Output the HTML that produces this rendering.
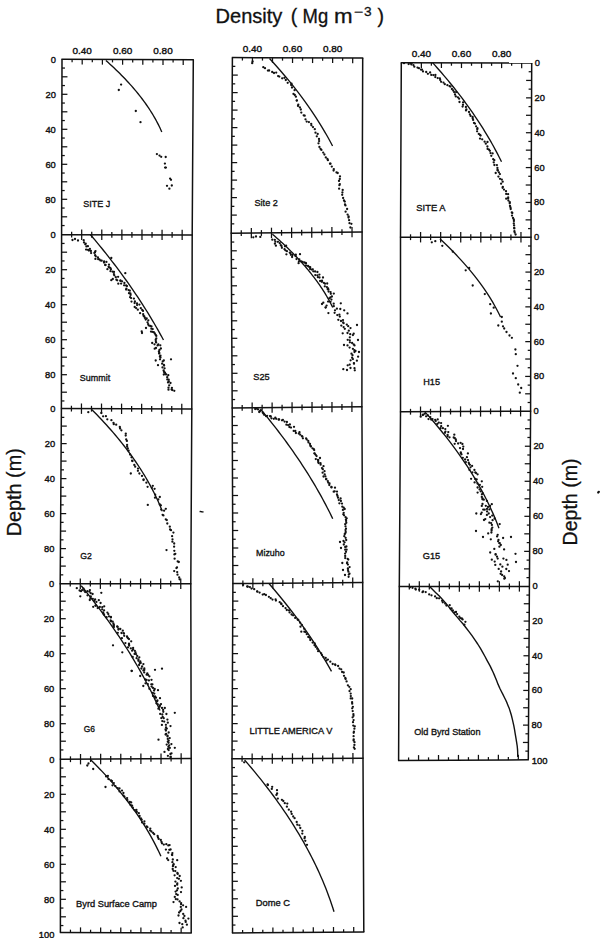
<!DOCTYPE html>
<html><head><meta charset="utf-8"><style>
html,body{margin:0;padding:0;background:#fff;width:600px;height:938px;overflow:hidden}
svg{display:block;font-family:"Liberation Sans",sans-serif}
.t{font-size:9.6px;stroke:#111;stroke-width:0.4px}
.lbl{font-size:9.8px;stroke:#111;stroke-width:0.35px}
</style></head><body>
<svg width="600" height="938" viewBox="0 0 600 938">
<g stroke="#111" fill="none" stroke-linecap="butt">
<polyline points="62.00,59.30 61.60,234.70 61.40,408.60 60.20,583.70 60.40,759.30 60.40,932.50" stroke-width="1.5"/>
<polyline points="193.30,59.80 192.20,234.90 191.80,409.10 190.80,583.70 191.20,758.50 191.20,933.00" stroke-width="1.5"/>
<line x1="61.40" y1="59.30" x2="193.90" y2="59.80" stroke-width="1.5"/>
<line x1="61.00" y1="234.70" x2="192.80" y2="234.90" stroke-width="1.5"/>
<line x1="60.80" y1="408.60" x2="192.40" y2="409.10" stroke-width="1.5"/>
<line x1="59.60" y1="583.70" x2="191.40" y2="583.70" stroke-width="1.5"/>
<line x1="59.80" y1="759.30" x2="191.80" y2="758.50" stroke-width="1.5"/>
<line x1="59.80" y1="932.50" x2="191.80" y2="933.00" stroke-width="1.5"/>
<line x1="72.10" y1="59.34" x2="72.10" y2="62.24" stroke-width="1.25"/>
<line x1="71.65" y1="234.72" x2="71.65" y2="231.82" stroke-width="1.25"/>
<line x1="82.20" y1="59.38" x2="82.20" y2="64.58" stroke-width="1.25"/>
<line x1="81.69" y1="234.73" x2="81.69" y2="229.53" stroke-width="1.25"/>
<line x1="92.30" y1="59.42" x2="92.30" y2="62.32" stroke-width="1.25"/>
<line x1="91.74" y1="234.75" x2="91.74" y2="231.85" stroke-width="1.25"/>
<line x1="102.40" y1="59.45" x2="102.40" y2="64.65" stroke-width="1.25"/>
<line x1="101.78" y1="234.76" x2="101.78" y2="229.56" stroke-width="1.25"/>
<line x1="112.50" y1="59.49" x2="112.50" y2="62.39" stroke-width="1.25"/>
<line x1="111.83" y1="234.78" x2="111.83" y2="231.88" stroke-width="1.25"/>
<line x1="122.60" y1="59.53" x2="122.60" y2="64.73" stroke-width="1.25"/>
<line x1="121.88" y1="234.79" x2="121.88" y2="229.59" stroke-width="1.25"/>
<line x1="132.70" y1="59.57" x2="132.70" y2="62.47" stroke-width="1.25"/>
<line x1="131.92" y1="234.81" x2="131.92" y2="231.91" stroke-width="1.25"/>
<line x1="142.80" y1="59.61" x2="142.80" y2="64.81" stroke-width="1.25"/>
<line x1="141.97" y1="234.82" x2="141.97" y2="229.62" stroke-width="1.25"/>
<line x1="152.90" y1="59.65" x2="152.90" y2="62.55" stroke-width="1.25"/>
<line x1="152.02" y1="234.84" x2="152.02" y2="231.94" stroke-width="1.25"/>
<line x1="163.00" y1="59.68" x2="163.00" y2="64.88" stroke-width="1.25"/>
<line x1="162.06" y1="234.85" x2="162.06" y2="229.65" stroke-width="1.25"/>
<line x1="173.10" y1="59.72" x2="173.10" y2="62.62" stroke-width="1.25"/>
<line x1="172.11" y1="234.87" x2="172.11" y2="231.97" stroke-width="1.25"/>
<line x1="183.20" y1="59.76" x2="183.20" y2="64.96" stroke-width="1.25"/>
<line x1="182.15" y1="234.88" x2="182.15" y2="229.68" stroke-width="1.25"/>
<line x1="61.98" y1="68.05" x2="64.98" y2="68.05" stroke-width="1.25"/>
<line x1="61.96" y1="76.80" x2="67.46" y2="76.80" stroke-width="1.25"/>
<line x1="61.94" y1="85.55" x2="64.94" y2="85.55" stroke-width="1.25"/>
<line x1="61.92" y1="94.30" x2="67.42" y2="94.30" stroke-width="1.25"/>
<line x1="61.90" y1="103.05" x2="64.90" y2="103.05" stroke-width="1.25"/>
<line x1="61.88" y1="111.80" x2="67.38" y2="111.80" stroke-width="1.25"/>
<line x1="61.86" y1="120.55" x2="64.86" y2="120.55" stroke-width="1.25"/>
<line x1="61.84" y1="129.30" x2="67.34" y2="129.30" stroke-width="1.25"/>
<line x1="61.82" y1="138.05" x2="64.82" y2="138.05" stroke-width="1.25"/>
<line x1="61.80" y1="146.80" x2="67.30" y2="146.80" stroke-width="1.25"/>
<line x1="61.78" y1="155.55" x2="64.78" y2="155.55" stroke-width="1.25"/>
<line x1="61.76" y1="164.30" x2="67.26" y2="164.30" stroke-width="1.25"/>
<line x1="61.74" y1="173.05" x2="64.74" y2="173.05" stroke-width="1.25"/>
<line x1="61.72" y1="181.80" x2="67.22" y2="181.80" stroke-width="1.25"/>
<line x1="61.70" y1="190.55" x2="64.70" y2="190.55" stroke-width="1.25"/>
<line x1="61.68" y1="199.30" x2="67.18" y2="199.30" stroke-width="1.25"/>
<line x1="61.66" y1="208.05" x2="64.66" y2="208.05" stroke-width="1.25"/>
<line x1="61.64" y1="216.80" x2="67.14" y2="216.80" stroke-width="1.25"/>
<line x1="61.62" y1="225.55" x2="64.62" y2="225.55" stroke-width="1.25"/>
<line x1="71.65" y1="234.72" x2="71.65" y2="237.62" stroke-width="1.25"/>
<line x1="71.43" y1="408.64" x2="71.43" y2="405.74" stroke-width="1.25"/>
<line x1="81.69" y1="234.73" x2="81.69" y2="239.93" stroke-width="1.25"/>
<line x1="81.46" y1="408.68" x2="81.46" y2="403.48" stroke-width="1.25"/>
<line x1="91.74" y1="234.75" x2="91.74" y2="237.65" stroke-width="1.25"/>
<line x1="91.49" y1="408.72" x2="91.49" y2="405.82" stroke-width="1.25"/>
<line x1="101.78" y1="234.76" x2="101.78" y2="239.96" stroke-width="1.25"/>
<line x1="101.52" y1="408.75" x2="101.52" y2="403.55" stroke-width="1.25"/>
<line x1="111.83" y1="234.78" x2="111.83" y2="237.68" stroke-width="1.25"/>
<line x1="111.55" y1="408.79" x2="111.55" y2="405.89" stroke-width="1.25"/>
<line x1="121.88" y1="234.79" x2="121.88" y2="239.99" stroke-width="1.25"/>
<line x1="121.58" y1="408.83" x2="121.58" y2="403.63" stroke-width="1.25"/>
<line x1="131.92" y1="234.81" x2="131.92" y2="237.71" stroke-width="1.25"/>
<line x1="131.62" y1="408.87" x2="131.62" y2="405.97" stroke-width="1.25"/>
<line x1="141.97" y1="234.82" x2="141.97" y2="240.02" stroke-width="1.25"/>
<line x1="141.65" y1="408.91" x2="141.65" y2="403.71" stroke-width="1.25"/>
<line x1="152.02" y1="234.84" x2="152.02" y2="237.74" stroke-width="1.25"/>
<line x1="151.68" y1="408.95" x2="151.68" y2="406.05" stroke-width="1.25"/>
<line x1="162.06" y1="234.85" x2="162.06" y2="240.05" stroke-width="1.25"/>
<line x1="161.71" y1="408.98" x2="161.71" y2="403.78" stroke-width="1.25"/>
<line x1="172.11" y1="234.87" x2="172.11" y2="237.77" stroke-width="1.25"/>
<line x1="171.74" y1="409.02" x2="171.74" y2="406.12" stroke-width="1.25"/>
<line x1="182.15" y1="234.88" x2="182.15" y2="240.08" stroke-width="1.25"/>
<line x1="181.77" y1="409.06" x2="181.77" y2="403.86" stroke-width="1.25"/>
<line x1="61.59" y1="243.45" x2="64.59" y2="243.45" stroke-width="1.25"/>
<line x1="61.58" y1="252.20" x2="67.08" y2="252.20" stroke-width="1.25"/>
<line x1="61.57" y1="260.95" x2="64.57" y2="260.95" stroke-width="1.25"/>
<line x1="61.56" y1="269.70" x2="67.06" y2="269.70" stroke-width="1.25"/>
<line x1="61.55" y1="278.45" x2="64.55" y2="278.45" stroke-width="1.25"/>
<line x1="61.54" y1="287.20" x2="67.04" y2="287.20" stroke-width="1.25"/>
<line x1="61.53" y1="295.95" x2="64.53" y2="295.95" stroke-width="1.25"/>
<line x1="61.52" y1="304.70" x2="67.02" y2="304.70" stroke-width="1.25"/>
<line x1="61.51" y1="313.45" x2="64.51" y2="313.45" stroke-width="1.25"/>
<line x1="61.50" y1="322.20" x2="67.00" y2="322.20" stroke-width="1.25"/>
<line x1="61.49" y1="330.95" x2="64.49" y2="330.95" stroke-width="1.25"/>
<line x1="61.48" y1="339.70" x2="66.98" y2="339.70" stroke-width="1.25"/>
<line x1="61.47" y1="348.45" x2="64.47" y2="348.45" stroke-width="1.25"/>
<line x1="61.46" y1="357.20" x2="66.96" y2="357.20" stroke-width="1.25"/>
<line x1="61.45" y1="365.95" x2="64.45" y2="365.95" stroke-width="1.25"/>
<line x1="61.44" y1="374.70" x2="66.94" y2="374.70" stroke-width="1.25"/>
<line x1="61.43" y1="383.45" x2="64.43" y2="383.45" stroke-width="1.25"/>
<line x1="61.42" y1="392.20" x2="66.92" y2="392.20" stroke-width="1.25"/>
<line x1="61.41" y1="400.95" x2="64.41" y2="400.95" stroke-width="1.25"/>
<line x1="71.43" y1="408.64" x2="71.43" y2="411.54" stroke-width="1.25"/>
<line x1="70.25" y1="583.70" x2="70.25" y2="580.80" stroke-width="1.25"/>
<line x1="81.46" y1="408.68" x2="81.46" y2="413.88" stroke-width="1.25"/>
<line x1="80.29" y1="583.70" x2="80.29" y2="578.50" stroke-width="1.25"/>
<line x1="91.49" y1="408.72" x2="91.49" y2="411.62" stroke-width="1.25"/>
<line x1="90.34" y1="583.70" x2="90.34" y2="580.80" stroke-width="1.25"/>
<line x1="101.52" y1="408.75" x2="101.52" y2="413.95" stroke-width="1.25"/>
<line x1="100.38" y1="583.70" x2="100.38" y2="578.50" stroke-width="1.25"/>
<line x1="111.55" y1="408.79" x2="111.55" y2="411.69" stroke-width="1.25"/>
<line x1="110.43" y1="583.70" x2="110.43" y2="580.80" stroke-width="1.25"/>
<line x1="121.58" y1="408.83" x2="121.58" y2="414.03" stroke-width="1.25"/>
<line x1="120.48" y1="583.70" x2="120.48" y2="578.50" stroke-width="1.25"/>
<line x1="131.62" y1="408.87" x2="131.62" y2="411.77" stroke-width="1.25"/>
<line x1="130.52" y1="583.70" x2="130.52" y2="580.80" stroke-width="1.25"/>
<line x1="141.65" y1="408.91" x2="141.65" y2="414.11" stroke-width="1.25"/>
<line x1="140.57" y1="583.70" x2="140.57" y2="578.50" stroke-width="1.25"/>
<line x1="151.68" y1="408.95" x2="151.68" y2="411.85" stroke-width="1.25"/>
<line x1="150.62" y1="583.70" x2="150.62" y2="580.80" stroke-width="1.25"/>
<line x1="161.71" y1="408.98" x2="161.71" y2="414.18" stroke-width="1.25"/>
<line x1="160.66" y1="583.70" x2="160.66" y2="578.50" stroke-width="1.25"/>
<line x1="171.74" y1="409.02" x2="171.74" y2="411.92" stroke-width="1.25"/>
<line x1="170.71" y1="583.70" x2="170.71" y2="580.80" stroke-width="1.25"/>
<line x1="181.77" y1="409.06" x2="181.77" y2="414.26" stroke-width="1.25"/>
<line x1="180.75" y1="583.70" x2="180.75" y2="578.50" stroke-width="1.25"/>
<line x1="61.34" y1="417.35" x2="64.34" y2="417.35" stroke-width="1.25"/>
<line x1="61.28" y1="426.10" x2="66.78" y2="426.10" stroke-width="1.25"/>
<line x1="61.22" y1="434.85" x2="64.22" y2="434.85" stroke-width="1.25"/>
<line x1="61.16" y1="443.60" x2="66.66" y2="443.60" stroke-width="1.25"/>
<line x1="61.10" y1="452.35" x2="64.10" y2="452.35" stroke-width="1.25"/>
<line x1="61.04" y1="461.10" x2="66.54" y2="461.10" stroke-width="1.25"/>
<line x1="60.98" y1="469.85" x2="63.98" y2="469.85" stroke-width="1.25"/>
<line x1="60.92" y1="478.60" x2="66.42" y2="478.60" stroke-width="1.25"/>
<line x1="60.86" y1="487.35" x2="63.86" y2="487.35" stroke-width="1.25"/>
<line x1="60.80" y1="496.10" x2="66.30" y2="496.10" stroke-width="1.25"/>
<line x1="60.74" y1="504.85" x2="63.74" y2="504.85" stroke-width="1.25"/>
<line x1="60.68" y1="513.60" x2="66.18" y2="513.60" stroke-width="1.25"/>
<line x1="60.62" y1="522.35" x2="63.62" y2="522.35" stroke-width="1.25"/>
<line x1="60.56" y1="531.10" x2="66.06" y2="531.10" stroke-width="1.25"/>
<line x1="60.50" y1="539.85" x2="63.50" y2="539.85" stroke-width="1.25"/>
<line x1="60.44" y1="548.60" x2="65.94" y2="548.60" stroke-width="1.25"/>
<line x1="60.38" y1="557.35" x2="63.38" y2="557.35" stroke-width="1.25"/>
<line x1="60.32" y1="566.10" x2="65.82" y2="566.10" stroke-width="1.25"/>
<line x1="60.26" y1="574.85" x2="63.26" y2="574.85" stroke-width="1.25"/>
<line x1="70.25" y1="583.70" x2="70.25" y2="586.60" stroke-width="1.25"/>
<line x1="70.46" y1="759.24" x2="70.46" y2="756.34" stroke-width="1.25"/>
<line x1="80.29" y1="583.70" x2="80.29" y2="588.90" stroke-width="1.25"/>
<line x1="80.52" y1="759.18" x2="80.52" y2="753.98" stroke-width="1.25"/>
<line x1="90.34" y1="583.70" x2="90.34" y2="586.60" stroke-width="1.25"/>
<line x1="90.58" y1="759.12" x2="90.58" y2="756.22" stroke-width="1.25"/>
<line x1="100.38" y1="583.70" x2="100.38" y2="588.90" stroke-width="1.25"/>
<line x1="100.65" y1="759.05" x2="100.65" y2="753.85" stroke-width="1.25"/>
<line x1="110.43" y1="583.70" x2="110.43" y2="586.60" stroke-width="1.25"/>
<line x1="110.71" y1="758.99" x2="110.71" y2="756.09" stroke-width="1.25"/>
<line x1="120.48" y1="583.70" x2="120.48" y2="588.90" stroke-width="1.25"/>
<line x1="120.77" y1="758.93" x2="120.77" y2="753.73" stroke-width="1.25"/>
<line x1="130.52" y1="583.70" x2="130.52" y2="586.60" stroke-width="1.25"/>
<line x1="130.83" y1="758.87" x2="130.83" y2="755.97" stroke-width="1.25"/>
<line x1="140.57" y1="583.70" x2="140.57" y2="588.90" stroke-width="1.25"/>
<line x1="140.89" y1="758.81" x2="140.89" y2="753.61" stroke-width="1.25"/>
<line x1="150.62" y1="583.70" x2="150.62" y2="586.60" stroke-width="1.25"/>
<line x1="150.95" y1="758.75" x2="150.95" y2="755.85" stroke-width="1.25"/>
<line x1="160.66" y1="583.70" x2="160.66" y2="588.90" stroke-width="1.25"/>
<line x1="161.02" y1="758.68" x2="161.02" y2="753.48" stroke-width="1.25"/>
<line x1="170.71" y1="583.70" x2="170.71" y2="586.60" stroke-width="1.25"/>
<line x1="171.08" y1="758.62" x2="171.08" y2="755.72" stroke-width="1.25"/>
<line x1="180.75" y1="583.70" x2="180.75" y2="588.90" stroke-width="1.25"/>
<line x1="181.14" y1="758.56" x2="181.14" y2="753.36" stroke-width="1.25"/>
<line x1="60.21" y1="592.45" x2="63.21" y2="592.45" stroke-width="1.25"/>
<line x1="60.22" y1="601.20" x2="65.72" y2="601.20" stroke-width="1.25"/>
<line x1="60.23" y1="609.95" x2="63.23" y2="609.95" stroke-width="1.25"/>
<line x1="60.24" y1="618.70" x2="65.74" y2="618.70" stroke-width="1.25"/>
<line x1="60.25" y1="627.45" x2="63.25" y2="627.45" stroke-width="1.25"/>
<line x1="60.26" y1="636.20" x2="65.76" y2="636.20" stroke-width="1.25"/>
<line x1="60.27" y1="644.95" x2="63.27" y2="644.95" stroke-width="1.25"/>
<line x1="60.28" y1="653.70" x2="65.78" y2="653.70" stroke-width="1.25"/>
<line x1="60.29" y1="662.45" x2="63.29" y2="662.45" stroke-width="1.25"/>
<line x1="60.30" y1="671.20" x2="65.80" y2="671.20" stroke-width="1.25"/>
<line x1="60.31" y1="679.95" x2="63.31" y2="679.95" stroke-width="1.25"/>
<line x1="60.32" y1="688.70" x2="65.82" y2="688.70" stroke-width="1.25"/>
<line x1="60.33" y1="697.45" x2="63.33" y2="697.45" stroke-width="1.25"/>
<line x1="60.34" y1="706.20" x2="65.84" y2="706.20" stroke-width="1.25"/>
<line x1="60.35" y1="714.95" x2="63.35" y2="714.95" stroke-width="1.25"/>
<line x1="60.36" y1="723.70" x2="65.86" y2="723.70" stroke-width="1.25"/>
<line x1="60.37" y1="732.45" x2="63.37" y2="732.45" stroke-width="1.25"/>
<line x1="60.38" y1="741.20" x2="65.88" y2="741.20" stroke-width="1.25"/>
<line x1="60.39" y1="749.95" x2="63.39" y2="749.95" stroke-width="1.25"/>
<line x1="70.46" y1="759.24" x2="70.46" y2="762.14" stroke-width="1.25"/>
<line x1="70.46" y1="932.54" x2="70.46" y2="929.64" stroke-width="1.25"/>
<line x1="80.52" y1="759.18" x2="80.52" y2="764.38" stroke-width="1.25"/>
<line x1="80.52" y1="932.58" x2="80.52" y2="927.38" stroke-width="1.25"/>
<line x1="90.58" y1="759.12" x2="90.58" y2="762.02" stroke-width="1.25"/>
<line x1="90.58" y1="932.62" x2="90.58" y2="929.72" stroke-width="1.25"/>
<line x1="100.65" y1="759.05" x2="100.65" y2="764.25" stroke-width="1.25"/>
<line x1="100.65" y1="932.65" x2="100.65" y2="927.45" stroke-width="1.25"/>
<line x1="110.71" y1="758.99" x2="110.71" y2="761.89" stroke-width="1.25"/>
<line x1="110.71" y1="932.69" x2="110.71" y2="929.79" stroke-width="1.25"/>
<line x1="120.77" y1="758.93" x2="120.77" y2="764.13" stroke-width="1.25"/>
<line x1="120.77" y1="932.73" x2="120.77" y2="927.53" stroke-width="1.25"/>
<line x1="130.83" y1="758.87" x2="130.83" y2="761.77" stroke-width="1.25"/>
<line x1="130.83" y1="932.77" x2="130.83" y2="929.87" stroke-width="1.25"/>
<line x1="140.89" y1="758.81" x2="140.89" y2="764.01" stroke-width="1.25"/>
<line x1="140.89" y1="932.81" x2="140.89" y2="927.61" stroke-width="1.25"/>
<line x1="150.95" y1="758.75" x2="150.95" y2="761.65" stroke-width="1.25"/>
<line x1="150.95" y1="932.85" x2="150.95" y2="929.95" stroke-width="1.25"/>
<line x1="161.02" y1="758.68" x2="161.02" y2="763.88" stroke-width="1.25"/>
<line x1="161.02" y1="932.88" x2="161.02" y2="927.68" stroke-width="1.25"/>
<line x1="171.08" y1="758.62" x2="171.08" y2="761.52" stroke-width="1.25"/>
<line x1="171.08" y1="932.92" x2="171.08" y2="930.02" stroke-width="1.25"/>
<line x1="181.14" y1="758.56" x2="181.14" y2="763.76" stroke-width="1.25"/>
<line x1="181.14" y1="932.96" x2="181.14" y2="927.76" stroke-width="1.25"/>
<line x1="60.40" y1="768.05" x2="63.40" y2="768.05" stroke-width="1.25"/>
<line x1="60.40" y1="776.80" x2="65.90" y2="776.80" stroke-width="1.25"/>
<line x1="60.40" y1="785.55" x2="63.40" y2="785.55" stroke-width="1.25"/>
<line x1="60.40" y1="794.30" x2="65.90" y2="794.30" stroke-width="1.25"/>
<line x1="60.40" y1="803.05" x2="63.40" y2="803.05" stroke-width="1.25"/>
<line x1="60.40" y1="811.80" x2="65.90" y2="811.80" stroke-width="1.25"/>
<line x1="60.40" y1="820.55" x2="63.40" y2="820.55" stroke-width="1.25"/>
<line x1="60.40" y1="829.30" x2="65.90" y2="829.30" stroke-width="1.25"/>
<line x1="60.40" y1="838.05" x2="63.40" y2="838.05" stroke-width="1.25"/>
<line x1="60.40" y1="846.80" x2="65.90" y2="846.80" stroke-width="1.25"/>
<line x1="60.40" y1="855.55" x2="63.40" y2="855.55" stroke-width="1.25"/>
<line x1="60.40" y1="864.30" x2="65.90" y2="864.30" stroke-width="1.25"/>
<line x1="60.40" y1="873.05" x2="63.40" y2="873.05" stroke-width="1.25"/>
<line x1="60.40" y1="881.80" x2="65.90" y2="881.80" stroke-width="1.25"/>
<line x1="60.40" y1="890.55" x2="63.40" y2="890.55" stroke-width="1.25"/>
<line x1="60.40" y1="899.30" x2="65.90" y2="899.30" stroke-width="1.25"/>
<line x1="60.40" y1="908.05" x2="63.40" y2="908.05" stroke-width="1.25"/>
<line x1="60.40" y1="916.80" x2="65.90" y2="916.80" stroke-width="1.25"/>
<line x1="60.40" y1="925.55" x2="63.40" y2="925.55" stroke-width="1.25"/>
<polyline points="232.40,57.60 231.20,233.30 232.20,408.00 232.90,583.60 232.00,758.80 232.50,933.00" stroke-width="1.5"/>
<polyline points="362.70,58.00 362.10,232.00 361.90,406.80 362.70,582.50 363.00,758.20 363.80,932.00" stroke-width="1.5"/>
<line x1="231.80" y1="57.60" x2="363.30" y2="58.00" stroke-width="1.5"/>
<line x1="230.60" y1="233.30" x2="362.70" y2="232.00" stroke-width="1.5"/>
<line x1="231.60" y1="408.00" x2="362.50" y2="406.80" stroke-width="1.5"/>
<line x1="232.30" y1="583.60" x2="363.30" y2="582.50" stroke-width="1.5"/>
<line x1="231.40" y1="758.80" x2="363.60" y2="758.20" stroke-width="1.5"/>
<line x1="231.90" y1="933.00" x2="364.40" y2="932.00" stroke-width="1.5"/>
<line x1="242.42" y1="57.63" x2="242.42" y2="60.53" stroke-width="1.25"/>
<line x1="241.27" y1="233.20" x2="241.27" y2="230.30" stroke-width="1.25"/>
<line x1="252.45" y1="57.66" x2="252.45" y2="62.86" stroke-width="1.25"/>
<line x1="251.34" y1="233.10" x2="251.34" y2="227.90" stroke-width="1.25"/>
<line x1="262.47" y1="57.69" x2="262.47" y2="60.59" stroke-width="1.25"/>
<line x1="261.41" y1="233.00" x2="261.41" y2="230.10" stroke-width="1.25"/>
<line x1="272.49" y1="57.72" x2="272.49" y2="62.92" stroke-width="1.25"/>
<line x1="271.48" y1="232.90" x2="271.48" y2="227.70" stroke-width="1.25"/>
<line x1="282.52" y1="57.75" x2="282.52" y2="60.65" stroke-width="1.25"/>
<line x1="281.55" y1="232.80" x2="281.55" y2="229.90" stroke-width="1.25"/>
<line x1="292.54" y1="57.78" x2="292.54" y2="62.98" stroke-width="1.25"/>
<line x1="291.62" y1="232.70" x2="291.62" y2="227.50" stroke-width="1.25"/>
<line x1="302.56" y1="57.82" x2="302.56" y2="60.72" stroke-width="1.25"/>
<line x1="301.68" y1="232.60" x2="301.68" y2="229.70" stroke-width="1.25"/>
<line x1="312.58" y1="57.85" x2="312.58" y2="63.05" stroke-width="1.25"/>
<line x1="311.75" y1="232.50" x2="311.75" y2="227.30" stroke-width="1.25"/>
<line x1="322.61" y1="57.88" x2="322.61" y2="60.78" stroke-width="1.25"/>
<line x1="321.82" y1="232.40" x2="321.82" y2="229.50" stroke-width="1.25"/>
<line x1="332.63" y1="57.91" x2="332.63" y2="63.11" stroke-width="1.25"/>
<line x1="331.89" y1="232.30" x2="331.89" y2="227.10" stroke-width="1.25"/>
<line x1="342.65" y1="57.94" x2="342.65" y2="60.84" stroke-width="1.25"/>
<line x1="341.96" y1="232.20" x2="341.96" y2="229.30" stroke-width="1.25"/>
<line x1="352.68" y1="57.97" x2="352.68" y2="63.17" stroke-width="1.25"/>
<line x1="352.03" y1="232.10" x2="352.03" y2="226.90" stroke-width="1.25"/>
<line x1="232.34" y1="66.35" x2="235.34" y2="66.35" stroke-width="1.25"/>
<line x1="232.28" y1="75.10" x2="237.78" y2="75.10" stroke-width="1.25"/>
<line x1="232.22" y1="83.85" x2="235.22" y2="83.85" stroke-width="1.25"/>
<line x1="232.16" y1="92.60" x2="237.66" y2="92.60" stroke-width="1.25"/>
<line x1="232.10" y1="101.35" x2="235.10" y2="101.35" stroke-width="1.25"/>
<line x1="232.04" y1="110.10" x2="237.54" y2="110.10" stroke-width="1.25"/>
<line x1="231.98" y1="118.85" x2="234.98" y2="118.85" stroke-width="1.25"/>
<line x1="231.92" y1="127.60" x2="237.42" y2="127.60" stroke-width="1.25"/>
<line x1="231.86" y1="136.35" x2="234.86" y2="136.35" stroke-width="1.25"/>
<line x1="231.80" y1="145.10" x2="237.30" y2="145.10" stroke-width="1.25"/>
<line x1="231.74" y1="153.85" x2="234.74" y2="153.85" stroke-width="1.25"/>
<line x1="231.68" y1="162.60" x2="237.18" y2="162.60" stroke-width="1.25"/>
<line x1="231.62" y1="171.35" x2="234.62" y2="171.35" stroke-width="1.25"/>
<line x1="231.56" y1="180.10" x2="237.06" y2="180.10" stroke-width="1.25"/>
<line x1="231.50" y1="188.85" x2="234.50" y2="188.85" stroke-width="1.25"/>
<line x1="231.44" y1="197.60" x2="236.94" y2="197.60" stroke-width="1.25"/>
<line x1="231.38" y1="206.35" x2="234.38" y2="206.35" stroke-width="1.25"/>
<line x1="231.32" y1="215.10" x2="236.82" y2="215.10" stroke-width="1.25"/>
<line x1="231.26" y1="223.85" x2="234.26" y2="223.85" stroke-width="1.25"/>
<line x1="241.27" y1="233.20" x2="241.27" y2="236.10" stroke-width="1.25"/>
<line x1="242.18" y1="407.91" x2="242.18" y2="405.01" stroke-width="1.25"/>
<line x1="251.34" y1="233.10" x2="251.34" y2="238.30" stroke-width="1.25"/>
<line x1="252.15" y1="407.82" x2="252.15" y2="402.62" stroke-width="1.25"/>
<line x1="261.41" y1="233.00" x2="261.41" y2="235.90" stroke-width="1.25"/>
<line x1="262.13" y1="407.72" x2="262.13" y2="404.82" stroke-width="1.25"/>
<line x1="271.48" y1="232.90" x2="271.48" y2="238.10" stroke-width="1.25"/>
<line x1="272.11" y1="407.63" x2="272.11" y2="402.43" stroke-width="1.25"/>
<line x1="281.55" y1="232.80" x2="281.55" y2="235.70" stroke-width="1.25"/>
<line x1="282.08" y1="407.54" x2="282.08" y2="404.64" stroke-width="1.25"/>
<line x1="291.62" y1="232.70" x2="291.62" y2="237.90" stroke-width="1.25"/>
<line x1="292.06" y1="407.45" x2="292.06" y2="402.25" stroke-width="1.25"/>
<line x1="301.68" y1="232.60" x2="301.68" y2="235.50" stroke-width="1.25"/>
<line x1="302.04" y1="407.35" x2="302.04" y2="404.45" stroke-width="1.25"/>
<line x1="311.75" y1="232.50" x2="311.75" y2="237.70" stroke-width="1.25"/>
<line x1="312.02" y1="407.26" x2="312.02" y2="402.06" stroke-width="1.25"/>
<line x1="321.82" y1="232.40" x2="321.82" y2="235.30" stroke-width="1.25"/>
<line x1="321.99" y1="407.17" x2="321.99" y2="404.27" stroke-width="1.25"/>
<line x1="331.89" y1="232.30" x2="331.89" y2="237.50" stroke-width="1.25"/>
<line x1="331.97" y1="407.08" x2="331.97" y2="401.88" stroke-width="1.25"/>
<line x1="341.96" y1="232.20" x2="341.96" y2="235.10" stroke-width="1.25"/>
<line x1="341.95" y1="406.98" x2="341.95" y2="404.08" stroke-width="1.25"/>
<line x1="352.03" y1="232.10" x2="352.03" y2="237.30" stroke-width="1.25"/>
<line x1="351.92" y1="406.89" x2="351.92" y2="401.69" stroke-width="1.25"/>
<line x1="231.25" y1="242.05" x2="234.25" y2="242.05" stroke-width="1.25"/>
<line x1="231.30" y1="250.80" x2="236.80" y2="250.80" stroke-width="1.25"/>
<line x1="231.35" y1="259.55" x2="234.35" y2="259.55" stroke-width="1.25"/>
<line x1="231.40" y1="268.30" x2="236.90" y2="268.30" stroke-width="1.25"/>
<line x1="231.45" y1="277.05" x2="234.45" y2="277.05" stroke-width="1.25"/>
<line x1="231.50" y1="285.80" x2="237.00" y2="285.80" stroke-width="1.25"/>
<line x1="231.55" y1="294.55" x2="234.55" y2="294.55" stroke-width="1.25"/>
<line x1="231.60" y1="303.30" x2="237.10" y2="303.30" stroke-width="1.25"/>
<line x1="231.65" y1="312.05" x2="234.65" y2="312.05" stroke-width="1.25"/>
<line x1="231.70" y1="320.80" x2="237.20" y2="320.80" stroke-width="1.25"/>
<line x1="231.75" y1="329.55" x2="234.75" y2="329.55" stroke-width="1.25"/>
<line x1="231.80" y1="338.30" x2="237.30" y2="338.30" stroke-width="1.25"/>
<line x1="231.85" y1="347.05" x2="234.85" y2="347.05" stroke-width="1.25"/>
<line x1="231.90" y1="355.80" x2="237.40" y2="355.80" stroke-width="1.25"/>
<line x1="231.95" y1="364.55" x2="234.95" y2="364.55" stroke-width="1.25"/>
<line x1="232.00" y1="373.30" x2="237.50" y2="373.30" stroke-width="1.25"/>
<line x1="232.05" y1="382.05" x2="235.05" y2="382.05" stroke-width="1.25"/>
<line x1="232.10" y1="390.80" x2="237.60" y2="390.80" stroke-width="1.25"/>
<line x1="232.15" y1="399.55" x2="235.15" y2="399.55" stroke-width="1.25"/>
<line x1="242.18" y1="407.91" x2="242.18" y2="410.81" stroke-width="1.25"/>
<line x1="242.88" y1="583.52" x2="242.88" y2="580.62" stroke-width="1.25"/>
<line x1="252.15" y1="407.82" x2="252.15" y2="413.02" stroke-width="1.25"/>
<line x1="252.87" y1="583.43" x2="252.87" y2="578.23" stroke-width="1.25"/>
<line x1="262.13" y1="407.72" x2="262.13" y2="410.62" stroke-width="1.25"/>
<line x1="262.85" y1="583.35" x2="262.85" y2="580.45" stroke-width="1.25"/>
<line x1="272.11" y1="407.63" x2="272.11" y2="412.83" stroke-width="1.25"/>
<line x1="272.84" y1="583.26" x2="272.84" y2="578.06" stroke-width="1.25"/>
<line x1="282.08" y1="407.54" x2="282.08" y2="410.44" stroke-width="1.25"/>
<line x1="282.82" y1="583.18" x2="282.82" y2="580.28" stroke-width="1.25"/>
<line x1="292.06" y1="407.45" x2="292.06" y2="412.65" stroke-width="1.25"/>
<line x1="292.81" y1="583.09" x2="292.81" y2="577.89" stroke-width="1.25"/>
<line x1="302.04" y1="407.35" x2="302.04" y2="410.25" stroke-width="1.25"/>
<line x1="302.79" y1="583.01" x2="302.79" y2="580.11" stroke-width="1.25"/>
<line x1="312.02" y1="407.26" x2="312.02" y2="412.46" stroke-width="1.25"/>
<line x1="312.78" y1="582.92" x2="312.78" y2="577.72" stroke-width="1.25"/>
<line x1="321.99" y1="407.17" x2="321.99" y2="410.07" stroke-width="1.25"/>
<line x1="322.76" y1="582.84" x2="322.76" y2="579.94" stroke-width="1.25"/>
<line x1="331.97" y1="407.08" x2="331.97" y2="412.28" stroke-width="1.25"/>
<line x1="332.75" y1="582.75" x2="332.75" y2="577.55" stroke-width="1.25"/>
<line x1="341.95" y1="406.98" x2="341.95" y2="409.88" stroke-width="1.25"/>
<line x1="342.73" y1="582.67" x2="342.73" y2="579.77" stroke-width="1.25"/>
<line x1="351.92" y1="406.89" x2="351.92" y2="412.09" stroke-width="1.25"/>
<line x1="352.72" y1="582.58" x2="352.72" y2="577.38" stroke-width="1.25"/>
<line x1="232.23" y1="416.75" x2="235.23" y2="416.75" stroke-width="1.25"/>
<line x1="232.27" y1="425.50" x2="237.77" y2="425.50" stroke-width="1.25"/>
<line x1="232.30" y1="434.25" x2="235.30" y2="434.25" stroke-width="1.25"/>
<line x1="232.34" y1="443.00" x2="237.84" y2="443.00" stroke-width="1.25"/>
<line x1="232.37" y1="451.75" x2="235.37" y2="451.75" stroke-width="1.25"/>
<line x1="232.41" y1="460.50" x2="237.91" y2="460.50" stroke-width="1.25"/>
<line x1="232.44" y1="469.25" x2="235.44" y2="469.25" stroke-width="1.25"/>
<line x1="232.48" y1="478.00" x2="237.98" y2="478.00" stroke-width="1.25"/>
<line x1="232.51" y1="486.75" x2="235.51" y2="486.75" stroke-width="1.25"/>
<line x1="232.55" y1="495.50" x2="238.05" y2="495.50" stroke-width="1.25"/>
<line x1="232.58" y1="504.25" x2="235.58" y2="504.25" stroke-width="1.25"/>
<line x1="232.62" y1="513.00" x2="238.12" y2="513.00" stroke-width="1.25"/>
<line x1="232.65" y1="521.75" x2="235.65" y2="521.75" stroke-width="1.25"/>
<line x1="232.69" y1="530.50" x2="238.19" y2="530.50" stroke-width="1.25"/>
<line x1="232.72" y1="539.25" x2="235.72" y2="539.25" stroke-width="1.25"/>
<line x1="232.76" y1="548.00" x2="238.26" y2="548.00" stroke-width="1.25"/>
<line x1="232.79" y1="556.75" x2="235.79" y2="556.75" stroke-width="1.25"/>
<line x1="232.83" y1="565.50" x2="238.33" y2="565.50" stroke-width="1.25"/>
<line x1="232.86" y1="574.25" x2="235.86" y2="574.25" stroke-width="1.25"/>
<line x1="242.88" y1="583.52" x2="242.88" y2="586.42" stroke-width="1.25"/>
<line x1="242.08" y1="758.75" x2="242.08" y2="755.85" stroke-width="1.25"/>
<line x1="252.87" y1="583.43" x2="252.87" y2="588.63" stroke-width="1.25"/>
<line x1="252.15" y1="758.71" x2="252.15" y2="753.51" stroke-width="1.25"/>
<line x1="262.85" y1="583.35" x2="262.85" y2="586.25" stroke-width="1.25"/>
<line x1="262.23" y1="758.66" x2="262.23" y2="755.76" stroke-width="1.25"/>
<line x1="272.84" y1="583.26" x2="272.84" y2="588.46" stroke-width="1.25"/>
<line x1="272.31" y1="758.62" x2="272.31" y2="753.42" stroke-width="1.25"/>
<line x1="282.82" y1="583.18" x2="282.82" y2="586.08" stroke-width="1.25"/>
<line x1="282.38" y1="758.57" x2="282.38" y2="755.67" stroke-width="1.25"/>
<line x1="292.81" y1="583.09" x2="292.81" y2="588.29" stroke-width="1.25"/>
<line x1="292.46" y1="758.52" x2="292.46" y2="753.32" stroke-width="1.25"/>
<line x1="302.79" y1="583.01" x2="302.79" y2="585.91" stroke-width="1.25"/>
<line x1="302.54" y1="758.48" x2="302.54" y2="755.58" stroke-width="1.25"/>
<line x1="312.78" y1="582.92" x2="312.78" y2="588.12" stroke-width="1.25"/>
<line x1="312.62" y1="758.43" x2="312.62" y2="753.23" stroke-width="1.25"/>
<line x1="322.76" y1="582.84" x2="322.76" y2="585.74" stroke-width="1.25"/>
<line x1="322.69" y1="758.38" x2="322.69" y2="755.48" stroke-width="1.25"/>
<line x1="332.75" y1="582.75" x2="332.75" y2="587.95" stroke-width="1.25"/>
<line x1="332.77" y1="758.34" x2="332.77" y2="753.14" stroke-width="1.25"/>
<line x1="342.73" y1="582.67" x2="342.73" y2="585.57" stroke-width="1.25"/>
<line x1="342.85" y1="758.29" x2="342.85" y2="755.39" stroke-width="1.25"/>
<line x1="352.72" y1="582.58" x2="352.72" y2="587.78" stroke-width="1.25"/>
<line x1="352.92" y1="758.25" x2="352.92" y2="753.05" stroke-width="1.25"/>
<line x1="232.86" y1="592.35" x2="235.86" y2="592.35" stroke-width="1.25"/>
<line x1="232.81" y1="601.10" x2="238.31" y2="601.10" stroke-width="1.25"/>
<line x1="232.77" y1="609.85" x2="235.77" y2="609.85" stroke-width="1.25"/>
<line x1="232.72" y1="618.60" x2="238.22" y2="618.60" stroke-width="1.25"/>
<line x1="232.68" y1="627.35" x2="235.68" y2="627.35" stroke-width="1.25"/>
<line x1="232.63" y1="636.10" x2="238.13" y2="636.10" stroke-width="1.25"/>
<line x1="232.59" y1="644.85" x2="235.59" y2="644.85" stroke-width="1.25"/>
<line x1="232.54" y1="653.60" x2="238.04" y2="653.60" stroke-width="1.25"/>
<line x1="232.50" y1="662.35" x2="235.50" y2="662.35" stroke-width="1.25"/>
<line x1="232.45" y1="671.10" x2="237.95" y2="671.10" stroke-width="1.25"/>
<line x1="232.41" y1="679.85" x2="235.41" y2="679.85" stroke-width="1.25"/>
<line x1="232.36" y1="688.60" x2="237.86" y2="688.60" stroke-width="1.25"/>
<line x1="232.32" y1="697.35" x2="235.32" y2="697.35" stroke-width="1.25"/>
<line x1="232.27" y1="706.10" x2="237.77" y2="706.10" stroke-width="1.25"/>
<line x1="232.23" y1="714.85" x2="235.23" y2="714.85" stroke-width="1.25"/>
<line x1="232.18" y1="723.60" x2="237.68" y2="723.60" stroke-width="1.25"/>
<line x1="232.14" y1="732.35" x2="235.14" y2="732.35" stroke-width="1.25"/>
<line x1="232.09" y1="741.10" x2="237.59" y2="741.10" stroke-width="1.25"/>
<line x1="232.05" y1="749.85" x2="235.05" y2="749.85" stroke-width="1.25"/>
<line x1="242.08" y1="758.75" x2="242.08" y2="761.65" stroke-width="1.25"/>
<line x1="242.60" y1="932.92" x2="242.60" y2="930.02" stroke-width="1.25"/>
<line x1="252.15" y1="758.71" x2="252.15" y2="763.91" stroke-width="1.25"/>
<line x1="252.70" y1="932.85" x2="252.70" y2="927.65" stroke-width="1.25"/>
<line x1="262.23" y1="758.66" x2="262.23" y2="761.56" stroke-width="1.25"/>
<line x1="262.80" y1="932.77" x2="262.80" y2="929.87" stroke-width="1.25"/>
<line x1="272.31" y1="758.62" x2="272.31" y2="763.82" stroke-width="1.25"/>
<line x1="272.90" y1="932.69" x2="272.90" y2="927.49" stroke-width="1.25"/>
<line x1="282.38" y1="758.57" x2="282.38" y2="761.47" stroke-width="1.25"/>
<line x1="283.00" y1="932.62" x2="283.00" y2="929.72" stroke-width="1.25"/>
<line x1="292.46" y1="758.52" x2="292.46" y2="763.72" stroke-width="1.25"/>
<line x1="293.10" y1="932.54" x2="293.10" y2="927.34" stroke-width="1.25"/>
<line x1="302.54" y1="758.48" x2="302.54" y2="761.38" stroke-width="1.25"/>
<line x1="303.20" y1="932.46" x2="303.20" y2="929.56" stroke-width="1.25"/>
<line x1="312.62" y1="758.43" x2="312.62" y2="763.63" stroke-width="1.25"/>
<line x1="313.30" y1="932.38" x2="313.30" y2="927.18" stroke-width="1.25"/>
<line x1="322.69" y1="758.38" x2="322.69" y2="761.28" stroke-width="1.25"/>
<line x1="323.40" y1="932.31" x2="323.40" y2="929.41" stroke-width="1.25"/>
<line x1="332.77" y1="758.34" x2="332.77" y2="763.54" stroke-width="1.25"/>
<line x1="333.50" y1="932.23" x2="333.50" y2="927.03" stroke-width="1.25"/>
<line x1="342.85" y1="758.29" x2="342.85" y2="761.19" stroke-width="1.25"/>
<line x1="343.60" y1="932.15" x2="343.60" y2="929.25" stroke-width="1.25"/>
<line x1="352.92" y1="758.25" x2="352.92" y2="763.45" stroke-width="1.25"/>
<line x1="353.70" y1="932.08" x2="353.70" y2="926.88" stroke-width="1.25"/>
<line x1="232.03" y1="767.55" x2="235.03" y2="767.55" stroke-width="1.25"/>
<line x1="232.05" y1="776.30" x2="237.55" y2="776.30" stroke-width="1.25"/>
<line x1="232.08" y1="785.05" x2="235.08" y2="785.05" stroke-width="1.25"/>
<line x1="232.10" y1="793.80" x2="237.60" y2="793.80" stroke-width="1.25"/>
<line x1="232.13" y1="802.55" x2="235.13" y2="802.55" stroke-width="1.25"/>
<line x1="232.15" y1="811.30" x2="237.65" y2="811.30" stroke-width="1.25"/>
<line x1="232.18" y1="820.05" x2="235.18" y2="820.05" stroke-width="1.25"/>
<line x1="232.20" y1="828.80" x2="237.70" y2="828.80" stroke-width="1.25"/>
<line x1="232.23" y1="837.55" x2="235.23" y2="837.55" stroke-width="1.25"/>
<line x1="232.25" y1="846.30" x2="237.75" y2="846.30" stroke-width="1.25"/>
<line x1="232.28" y1="855.05" x2="235.28" y2="855.05" stroke-width="1.25"/>
<line x1="232.30" y1="863.80" x2="237.80" y2="863.80" stroke-width="1.25"/>
<line x1="232.33" y1="872.55" x2="235.33" y2="872.55" stroke-width="1.25"/>
<line x1="232.35" y1="881.30" x2="237.85" y2="881.30" stroke-width="1.25"/>
<line x1="232.38" y1="890.05" x2="235.38" y2="890.05" stroke-width="1.25"/>
<line x1="232.40" y1="898.80" x2="237.90" y2="898.80" stroke-width="1.25"/>
<line x1="232.43" y1="907.55" x2="235.43" y2="907.55" stroke-width="1.25"/>
<line x1="232.45" y1="916.30" x2="237.95" y2="916.30" stroke-width="1.25"/>
<line x1="232.48" y1="925.05" x2="235.48" y2="925.05" stroke-width="1.25"/>
<polyline points="401.30,62.70 400.50,237.20 400.50,411.80 399.30,586.50 398.60,760.40" stroke-width="1.5"/>
<polyline points="531.70,63.00 531.00,237.30 530.60,411.20 529.40,586.40 528.30,759.80" stroke-width="1.5"/>
<line x1="400.70" y1="62.70" x2="532.30" y2="63.00" stroke-width="1.5"/>
<line x1="399.90" y1="237.20" x2="531.60" y2="237.30" stroke-width="1.5"/>
<line x1="399.90" y1="411.80" x2="531.20" y2="411.20" stroke-width="1.5"/>
<line x1="398.70" y1="586.50" x2="530.00" y2="586.40" stroke-width="1.5"/>
<line x1="398.00" y1="760.40" x2="528.90" y2="759.80" stroke-width="1.5"/>
<line x1="411.33" y1="62.72" x2="411.33" y2="65.62" stroke-width="1.25"/>
<line x1="410.54" y1="237.21" x2="410.54" y2="234.31" stroke-width="1.25"/>
<line x1="421.36" y1="62.75" x2="421.36" y2="67.95" stroke-width="1.25"/>
<line x1="420.58" y1="237.22" x2="420.58" y2="232.02" stroke-width="1.25"/>
<line x1="431.39" y1="62.77" x2="431.39" y2="65.67" stroke-width="1.25"/>
<line x1="430.62" y1="237.22" x2="430.62" y2="234.32" stroke-width="1.25"/>
<line x1="441.42" y1="62.79" x2="441.42" y2="67.99" stroke-width="1.25"/>
<line x1="440.65" y1="237.23" x2="440.65" y2="232.03" stroke-width="1.25"/>
<line x1="451.45" y1="62.82" x2="451.45" y2="65.72" stroke-width="1.25"/>
<line x1="450.69" y1="237.24" x2="450.69" y2="234.34" stroke-width="1.25"/>
<line x1="461.48" y1="62.84" x2="461.48" y2="68.04" stroke-width="1.25"/>
<line x1="460.73" y1="237.25" x2="460.73" y2="232.05" stroke-width="1.25"/>
<line x1="471.52" y1="62.86" x2="471.52" y2="65.76" stroke-width="1.25"/>
<line x1="470.77" y1="237.25" x2="470.77" y2="234.35" stroke-width="1.25"/>
<line x1="481.55" y1="62.88" x2="481.55" y2="68.08" stroke-width="1.25"/>
<line x1="480.81" y1="237.26" x2="480.81" y2="232.06" stroke-width="1.25"/>
<line x1="491.58" y1="62.91" x2="491.58" y2="65.81" stroke-width="1.25"/>
<line x1="490.85" y1="237.27" x2="490.85" y2="234.37" stroke-width="1.25"/>
<line x1="501.61" y1="62.93" x2="501.61" y2="68.13" stroke-width="1.25"/>
<line x1="500.88" y1="237.28" x2="500.88" y2="232.08" stroke-width="1.25"/>
<line x1="511.64" y1="62.95" x2="511.64" y2="65.85" stroke-width="1.25"/>
<line x1="510.92" y1="237.28" x2="510.92" y2="234.38" stroke-width="1.25"/>
<line x1="521.67" y1="62.98" x2="521.67" y2="68.18" stroke-width="1.25"/>
<line x1="520.96" y1="237.29" x2="520.96" y2="232.09" stroke-width="1.25"/>
<line x1="531.67" y1="71.72" x2="528.67" y2="71.72" stroke-width="1.25"/>
<line x1="531.63" y1="80.43" x2="526.13" y2="80.43" stroke-width="1.25"/>
<line x1="531.60" y1="89.14" x2="528.60" y2="89.14" stroke-width="1.25"/>
<line x1="531.56" y1="97.86" x2="526.06" y2="97.86" stroke-width="1.25"/>
<line x1="531.53" y1="106.58" x2="528.53" y2="106.58" stroke-width="1.25"/>
<line x1="531.49" y1="115.29" x2="525.99" y2="115.29" stroke-width="1.25"/>
<line x1="531.46" y1="124.00" x2="528.46" y2="124.00" stroke-width="1.25"/>
<line x1="531.42" y1="132.72" x2="525.92" y2="132.72" stroke-width="1.25"/>
<line x1="531.38" y1="141.44" x2="528.38" y2="141.44" stroke-width="1.25"/>
<line x1="531.35" y1="150.15" x2="525.85" y2="150.15" stroke-width="1.25"/>
<line x1="531.32" y1="158.87" x2="528.32" y2="158.87" stroke-width="1.25"/>
<line x1="531.28" y1="167.58" x2="525.78" y2="167.58" stroke-width="1.25"/>
<line x1="531.25" y1="176.30" x2="528.25" y2="176.30" stroke-width="1.25"/>
<line x1="531.21" y1="185.01" x2="525.71" y2="185.01" stroke-width="1.25"/>
<line x1="531.17" y1="193.73" x2="528.17" y2="193.73" stroke-width="1.25"/>
<line x1="531.14" y1="202.44" x2="525.64" y2="202.44" stroke-width="1.25"/>
<line x1="531.11" y1="211.16" x2="528.11" y2="211.16" stroke-width="1.25"/>
<line x1="531.07" y1="219.87" x2="525.57" y2="219.87" stroke-width="1.25"/>
<line x1="531.03" y1="228.59" x2="528.03" y2="228.59" stroke-width="1.25"/>
<line x1="410.54" y1="237.21" x2="410.54" y2="240.11" stroke-width="1.25"/>
<line x1="410.51" y1="411.75" x2="410.51" y2="408.85" stroke-width="1.25"/>
<line x1="420.58" y1="237.22" x2="420.58" y2="242.42" stroke-width="1.25"/>
<line x1="420.52" y1="411.71" x2="420.52" y2="406.51" stroke-width="1.25"/>
<line x1="430.62" y1="237.22" x2="430.62" y2="240.12" stroke-width="1.25"/>
<line x1="430.52" y1="411.66" x2="430.52" y2="408.76" stroke-width="1.25"/>
<line x1="440.65" y1="237.23" x2="440.65" y2="242.43" stroke-width="1.25"/>
<line x1="440.53" y1="411.62" x2="440.53" y2="406.42" stroke-width="1.25"/>
<line x1="450.69" y1="237.24" x2="450.69" y2="240.14" stroke-width="1.25"/>
<line x1="450.54" y1="411.57" x2="450.54" y2="408.67" stroke-width="1.25"/>
<line x1="460.73" y1="237.25" x2="460.73" y2="242.45" stroke-width="1.25"/>
<line x1="460.55" y1="411.52" x2="460.55" y2="406.32" stroke-width="1.25"/>
<line x1="470.77" y1="237.25" x2="470.77" y2="240.15" stroke-width="1.25"/>
<line x1="470.55" y1="411.48" x2="470.55" y2="408.58" stroke-width="1.25"/>
<line x1="480.81" y1="237.26" x2="480.81" y2="242.46" stroke-width="1.25"/>
<line x1="480.56" y1="411.43" x2="480.56" y2="406.23" stroke-width="1.25"/>
<line x1="490.85" y1="237.27" x2="490.85" y2="240.17" stroke-width="1.25"/>
<line x1="490.57" y1="411.38" x2="490.57" y2="408.48" stroke-width="1.25"/>
<line x1="500.88" y1="237.28" x2="500.88" y2="242.48" stroke-width="1.25"/>
<line x1="500.58" y1="411.34" x2="500.58" y2="406.14" stroke-width="1.25"/>
<line x1="510.92" y1="237.28" x2="510.92" y2="240.18" stroke-width="1.25"/>
<line x1="510.58" y1="411.29" x2="510.58" y2="408.39" stroke-width="1.25"/>
<line x1="520.96" y1="237.29" x2="520.96" y2="242.49" stroke-width="1.25"/>
<line x1="520.59" y1="411.25" x2="520.59" y2="406.05" stroke-width="1.25"/>
<line x1="530.98" y1="246.00" x2="527.98" y2="246.00" stroke-width="1.25"/>
<line x1="530.96" y1="254.69" x2="525.46" y2="254.69" stroke-width="1.25"/>
<line x1="530.94" y1="263.38" x2="527.94" y2="263.38" stroke-width="1.25"/>
<line x1="530.92" y1="272.08" x2="525.42" y2="272.08" stroke-width="1.25"/>
<line x1="530.90" y1="280.77" x2="527.90" y2="280.77" stroke-width="1.25"/>
<line x1="530.88" y1="289.47" x2="525.38" y2="289.47" stroke-width="1.25"/>
<line x1="530.86" y1="298.17" x2="527.86" y2="298.17" stroke-width="1.25"/>
<line x1="530.84" y1="306.86" x2="525.34" y2="306.86" stroke-width="1.25"/>
<line x1="530.82" y1="315.56" x2="527.82" y2="315.56" stroke-width="1.25"/>
<line x1="530.80" y1="324.25" x2="525.30" y2="324.25" stroke-width="1.25"/>
<line x1="530.78" y1="332.94" x2="527.78" y2="332.94" stroke-width="1.25"/>
<line x1="530.76" y1="341.64" x2="525.26" y2="341.64" stroke-width="1.25"/>
<line x1="530.74" y1="350.33" x2="527.74" y2="350.33" stroke-width="1.25"/>
<line x1="530.72" y1="359.03" x2="525.22" y2="359.03" stroke-width="1.25"/>
<line x1="530.70" y1="367.73" x2="527.70" y2="367.73" stroke-width="1.25"/>
<line x1="530.68" y1="376.42" x2="525.18" y2="376.42" stroke-width="1.25"/>
<line x1="530.66" y1="385.12" x2="527.66" y2="385.12" stroke-width="1.25"/>
<line x1="530.64" y1="393.81" x2="525.14" y2="393.81" stroke-width="1.25"/>
<line x1="530.62" y1="402.50" x2="527.62" y2="402.50" stroke-width="1.25"/>
<line x1="410.51" y1="411.75" x2="410.51" y2="414.65" stroke-width="1.25"/>
<line x1="409.31" y1="586.49" x2="409.31" y2="583.59" stroke-width="1.25"/>
<line x1="420.52" y1="411.71" x2="420.52" y2="416.91" stroke-width="1.25"/>
<line x1="419.32" y1="586.48" x2="419.32" y2="581.28" stroke-width="1.25"/>
<line x1="430.52" y1="411.66" x2="430.52" y2="414.56" stroke-width="1.25"/>
<line x1="429.32" y1="586.48" x2="429.32" y2="583.58" stroke-width="1.25"/>
<line x1="440.53" y1="411.62" x2="440.53" y2="416.82" stroke-width="1.25"/>
<line x1="439.33" y1="586.47" x2="439.33" y2="581.27" stroke-width="1.25"/>
<line x1="450.54" y1="411.57" x2="450.54" y2="414.47" stroke-width="1.25"/>
<line x1="449.34" y1="586.46" x2="449.34" y2="583.56" stroke-width="1.25"/>
<line x1="460.55" y1="411.52" x2="460.55" y2="416.72" stroke-width="1.25"/>
<line x1="459.35" y1="586.45" x2="459.35" y2="581.25" stroke-width="1.25"/>
<line x1="470.55" y1="411.48" x2="470.55" y2="414.38" stroke-width="1.25"/>
<line x1="469.35" y1="586.45" x2="469.35" y2="583.55" stroke-width="1.25"/>
<line x1="480.56" y1="411.43" x2="480.56" y2="416.63" stroke-width="1.25"/>
<line x1="479.36" y1="586.44" x2="479.36" y2="581.24" stroke-width="1.25"/>
<line x1="490.57" y1="411.38" x2="490.57" y2="414.28" stroke-width="1.25"/>
<line x1="489.37" y1="586.43" x2="489.37" y2="583.53" stroke-width="1.25"/>
<line x1="500.58" y1="411.34" x2="500.58" y2="416.54" stroke-width="1.25"/>
<line x1="499.38" y1="586.42" x2="499.38" y2="581.22" stroke-width="1.25"/>
<line x1="510.58" y1="411.29" x2="510.58" y2="414.19" stroke-width="1.25"/>
<line x1="509.38" y1="586.42" x2="509.38" y2="583.52" stroke-width="1.25"/>
<line x1="520.59" y1="411.25" x2="520.59" y2="416.45" stroke-width="1.25"/>
<line x1="519.39" y1="586.41" x2="519.39" y2="581.21" stroke-width="1.25"/>
<line x1="530.54" y1="419.96" x2="527.54" y2="419.96" stroke-width="1.25"/>
<line x1="530.48" y1="428.72" x2="524.98" y2="428.72" stroke-width="1.25"/>
<line x1="530.42" y1="437.48" x2="527.42" y2="437.48" stroke-width="1.25"/>
<line x1="530.36" y1="446.24" x2="524.86" y2="446.24" stroke-width="1.25"/>
<line x1="530.30" y1="455.00" x2="527.30" y2="455.00" stroke-width="1.25"/>
<line x1="530.24" y1="463.76" x2="524.74" y2="463.76" stroke-width="1.25"/>
<line x1="530.18" y1="472.52" x2="527.18" y2="472.52" stroke-width="1.25"/>
<line x1="530.12" y1="481.28" x2="524.62" y2="481.28" stroke-width="1.25"/>
<line x1="530.06" y1="490.04" x2="527.06" y2="490.04" stroke-width="1.25"/>
<line x1="530.00" y1="498.80" x2="524.50" y2="498.80" stroke-width="1.25"/>
<line x1="529.94" y1="507.56" x2="526.94" y2="507.56" stroke-width="1.25"/>
<line x1="529.88" y1="516.32" x2="524.38" y2="516.32" stroke-width="1.25"/>
<line x1="529.82" y1="525.08" x2="526.82" y2="525.08" stroke-width="1.25"/>
<line x1="529.76" y1="533.84" x2="524.26" y2="533.84" stroke-width="1.25"/>
<line x1="529.70" y1="542.60" x2="526.70" y2="542.60" stroke-width="1.25"/>
<line x1="529.64" y1="551.36" x2="524.14" y2="551.36" stroke-width="1.25"/>
<line x1="529.58" y1="560.12" x2="526.58" y2="560.12" stroke-width="1.25"/>
<line x1="529.52" y1="568.88" x2="524.02" y2="568.88" stroke-width="1.25"/>
<line x1="529.46" y1="577.64" x2="526.46" y2="577.64" stroke-width="1.25"/>
<line x1="409.31" y1="586.49" x2="409.31" y2="589.39" stroke-width="1.25"/>
<line x1="408.58" y1="760.35" x2="408.58" y2="757.45" stroke-width="1.25"/>
<line x1="419.32" y1="586.48" x2="419.32" y2="591.68" stroke-width="1.25"/>
<line x1="418.55" y1="760.31" x2="418.55" y2="755.11" stroke-width="1.25"/>
<line x1="429.32" y1="586.48" x2="429.32" y2="589.38" stroke-width="1.25"/>
<line x1="428.53" y1="760.26" x2="428.53" y2="757.36" stroke-width="1.25"/>
<line x1="439.33" y1="586.47" x2="439.33" y2="591.67" stroke-width="1.25"/>
<line x1="438.51" y1="760.22" x2="438.51" y2="755.02" stroke-width="1.25"/>
<line x1="449.34" y1="586.46" x2="449.34" y2="589.36" stroke-width="1.25"/>
<line x1="448.48" y1="760.17" x2="448.48" y2="757.27" stroke-width="1.25"/>
<line x1="459.35" y1="586.45" x2="459.35" y2="591.65" stroke-width="1.25"/>
<line x1="458.46" y1="760.12" x2="458.46" y2="754.92" stroke-width="1.25"/>
<line x1="469.35" y1="586.45" x2="469.35" y2="589.35" stroke-width="1.25"/>
<line x1="468.44" y1="760.08" x2="468.44" y2="757.18" stroke-width="1.25"/>
<line x1="479.36" y1="586.44" x2="479.36" y2="591.64" stroke-width="1.25"/>
<line x1="478.42" y1="760.03" x2="478.42" y2="754.83" stroke-width="1.25"/>
<line x1="489.37" y1="586.43" x2="489.37" y2="589.33" stroke-width="1.25"/>
<line x1="488.39" y1="759.98" x2="488.39" y2="757.08" stroke-width="1.25"/>
<line x1="499.38" y1="586.42" x2="499.38" y2="591.62" stroke-width="1.25"/>
<line x1="498.37" y1="759.94" x2="498.37" y2="754.74" stroke-width="1.25"/>
<line x1="509.38" y1="586.42" x2="509.38" y2="589.32" stroke-width="1.25"/>
<line x1="508.35" y1="759.89" x2="508.35" y2="756.99" stroke-width="1.25"/>
<line x1="519.39" y1="586.41" x2="519.39" y2="591.61" stroke-width="1.25"/>
<line x1="518.32" y1="759.85" x2="518.32" y2="754.65" stroke-width="1.25"/>
<line x1="529.35" y1="595.07" x2="526.35" y2="595.07" stroke-width="1.25"/>
<line x1="529.29" y1="603.74" x2="523.79" y2="603.74" stroke-width="1.25"/>
<line x1="529.24" y1="612.41" x2="526.24" y2="612.41" stroke-width="1.25"/>
<line x1="529.18" y1="621.08" x2="523.68" y2="621.08" stroke-width="1.25"/>
<line x1="529.12" y1="629.75" x2="526.12" y2="629.75" stroke-width="1.25"/>
<line x1="529.07" y1="638.42" x2="523.57" y2="638.42" stroke-width="1.25"/>
<line x1="529.01" y1="647.09" x2="526.01" y2="647.09" stroke-width="1.25"/>
<line x1="528.96" y1="655.76" x2="523.46" y2="655.76" stroke-width="1.25"/>
<line x1="528.90" y1="664.43" x2="525.90" y2="664.43" stroke-width="1.25"/>
<line x1="528.85" y1="673.10" x2="523.35" y2="673.10" stroke-width="1.25"/>
<line x1="528.79" y1="681.77" x2="525.79" y2="681.77" stroke-width="1.25"/>
<line x1="528.74" y1="690.44" x2="523.24" y2="690.44" stroke-width="1.25"/>
<line x1="528.68" y1="699.11" x2="525.68" y2="699.11" stroke-width="1.25"/>
<line x1="528.63" y1="707.78" x2="523.13" y2="707.78" stroke-width="1.25"/>
<line x1="528.57" y1="716.45" x2="525.57" y2="716.45" stroke-width="1.25"/>
<line x1="528.52" y1="725.12" x2="523.02" y2="725.12" stroke-width="1.25"/>
<line x1="528.46" y1="733.79" x2="525.46" y2="733.79" stroke-width="1.25"/>
<line x1="528.41" y1="742.46" x2="522.91" y2="742.46" stroke-width="1.25"/>
<line x1="528.35" y1="751.13" x2="525.35" y2="751.13" stroke-width="1.25"/>
</g>
<g class="data" fill="#111" font-family="'Liberation Sans', sans-serif">
<polyline points="105.91,60.50 107.97,62.33 109.99,64.17 111.99,66.00 113.95,67.83 115.87,69.67 117.77,71.50 119.63,73.33 121.45,75.17 123.25,77.00 125.01,78.83 126.74,80.67 128.44,82.50 130.10,84.33 131.73,86.17 133.33,88.00 134.89,89.83 136.42,91.67 137.92,93.50 139.39,95.33 140.82,97.17 142.22,99.00 143.59,100.83 144.92,102.67 146.23,104.50 147.50,106.33 148.73,108.17 149.93,110.00 151.10,111.83 152.24,113.67 153.35,115.50 154.42,117.33 155.46,119.17 156.46,121.00 157.43,122.83 158.37,124.67 159.28,126.50 160.15,128.33 161.00,130.17 161.80,132.00" stroke="#111" stroke-width="1.35" fill="none" stroke-linejoin="round"/>
<circle cx="121.1" cy="84.6" r="1.15"/>
<circle cx="118.8" cy="90.0" r="1.15"/>
<circle cx="135.8" cy="111.0" r="1.15"/>
<circle cx="140.5" cy="122.2" r="1.15"/>
<circle cx="156.9" cy="154.1" r="1.15"/>
<circle cx="159.5" cy="155.6" r="1.15"/>
<circle cx="161.2" cy="156.8" r="1.15"/>
<circle cx="165.7" cy="157.0" r="1.15"/>
<circle cx="164.9" cy="163.6" r="1.15"/>
<circle cx="165.1" cy="167.6" r="1.15"/>
<circle cx="165.9" cy="167.6" r="1.15"/>
<circle cx="170.1" cy="178.6" r="1.15"/>
<circle cx="171.0" cy="179.8" r="1.15"/>
<circle cx="167.0" cy="185.8" r="1.15"/>
<circle cx="171.8" cy="185.5" r="1.15"/>
<circle cx="169.4" cy="188.7" r="1.15"/>
<text x="83.3" y="207.3" class="lbl" textLength="27" lengthAdjust="spacingAndGlyphs">SITE J</text>
<polyline points="269.53,58.50 271.59,60.74 273.62,62.99 275.64,65.23 277.62,67.47 279.59,69.72 281.53,71.96 283.45,74.21 285.35,76.45 287.22,78.69 289.07,80.94 290.90,83.18 292.70,85.42 294.48,87.67 296.23,89.91 297.97,92.15 299.68,94.40 301.36,96.64 303.02,98.88 304.66,101.13 306.28,103.37 307.87,105.62 309.44,107.86 310.99,110.10 312.51,112.35 314.01,114.59 315.49,116.83 316.94,119.08 318.37,121.32 319.78,123.56 321.16,125.81 322.52,128.05 323.86,130.29 325.17,132.54 326.46,134.78 327.73,137.03 328.97,139.27 330.19,141.51 331.39,143.76 332.56,146.00" stroke="#111" stroke-width="1.35" fill="none" stroke-linejoin="round"/>
<circle cx="263.3" cy="67.2" r="1.15"/>
<circle cx="265.0" cy="68.2" r="1.15"/>
<circle cx="267.9" cy="70.6" r="1.15"/>
<circle cx="269.1" cy="70.5" r="1.15"/>
<circle cx="272.2" cy="72.0" r="1.15"/>
<circle cx="274.0" cy="73.0" r="1.15"/>
<circle cx="276.2" cy="72.6" r="1.15"/>
<circle cx="278.1" cy="76.1" r="1.15"/>
<circle cx="279.3" cy="76.6" r="1.15"/>
<circle cx="282.2" cy="78.3" r="1.15"/>
<circle cx="284.4" cy="77.8" r="1.15"/>
<circle cx="285.8" cy="80.0" r="1.15"/>
<circle cx="287.7" cy="82.8" r="1.15"/>
<circle cx="291.5" cy="83.7" r="1.15"/>
<circle cx="291.2" cy="85.0" r="1.15"/>
<circle cx="292.0" cy="87.5" r="1.15"/>
<circle cx="294.6" cy="90.2" r="1.15"/>
<circle cx="293.5" cy="93.9" r="1.15"/>
<circle cx="294.8" cy="95.0" r="1.15"/>
<circle cx="295.9" cy="96.7" r="1.15"/>
<circle cx="296.9" cy="100.4" r="1.15"/>
<circle cx="296.7" cy="100.6" r="1.15"/>
<circle cx="298.3" cy="104.7" r="1.15"/>
<circle cx="298.0" cy="105.9" r="1.15"/>
<circle cx="299.9" cy="107.4" r="1.15"/>
<circle cx="300.8" cy="109.5" r="1.15"/>
<circle cx="301.3" cy="112.6" r="1.15"/>
<circle cx="303.7" cy="115.3" r="1.15"/>
<circle cx="304.7" cy="115.7" r="1.15"/>
<circle cx="305.5" cy="119.3" r="1.15"/>
<circle cx="306.7" cy="121.6" r="1.15"/>
<circle cx="308.9" cy="122.1" r="1.15"/>
<circle cx="311.2" cy="123.8" r="1.15"/>
<circle cx="311.4" cy="125.3" r="1.15"/>
<circle cx="313.0" cy="127.1" r="1.15"/>
<circle cx="314.8" cy="129.2" r="1.15"/>
<circle cx="315.5" cy="132.7" r="1.15"/>
<circle cx="317.7" cy="133.9" r="1.15"/>
<circle cx="316.8" cy="136.3" r="1.15"/>
<circle cx="319.0" cy="139.0" r="1.15"/>
<circle cx="319.1" cy="141.1" r="1.15"/>
<circle cx="318.5" cy="143.3" r="1.15"/>
<circle cx="319.4" cy="146.9" r="1.15"/>
<circle cx="320.5" cy="148.8" r="1.15"/>
<circle cx="321.4" cy="149.9" r="1.15"/>
<circle cx="323.2" cy="152.6" r="1.15"/>
<circle cx="324.4" cy="154.5" r="1.15"/>
<circle cx="325.8" cy="157.4" r="1.15"/>
<circle cx="327.4" cy="158.9" r="1.15"/>
<circle cx="327.9" cy="160.2" r="1.15"/>
<circle cx="330.0" cy="163.7" r="1.15"/>
<circle cx="330.5" cy="163.7" r="1.15"/>
<circle cx="331.8" cy="166.6" r="1.15"/>
<circle cx="333.8" cy="169.1" r="1.15"/>
<circle cx="333.6" cy="170.5" r="1.15"/>
<circle cx="336.5" cy="172.4" r="1.15"/>
<circle cx="337.7" cy="173.0" r="1.15"/>
<circle cx="340.0" cy="176.4" r="1.15"/>
<circle cx="339.8" cy="179.0" r="1.15"/>
<circle cx="339.0" cy="180.9" r="1.15"/>
<circle cx="339.8" cy="184.1" r="1.15"/>
<circle cx="339.4" cy="185.2" r="1.15"/>
<circle cx="339.1" cy="188.7" r="1.15"/>
<circle cx="342.7" cy="189.9" r="1.15"/>
<circle cx="342.4" cy="192.5" r="1.15"/>
<circle cx="342.2" cy="194.8" r="1.15"/>
<circle cx="343.1" cy="198.0" r="1.15"/>
<circle cx="344.0" cy="200.5" r="1.15"/>
<circle cx="344.8" cy="201.6" r="1.15"/>
<circle cx="345.0" cy="204.5" r="1.15"/>
<circle cx="345.5" cy="205.4" r="1.15"/>
<circle cx="347.1" cy="209.0" r="1.15"/>
<circle cx="345.6" cy="211.7" r="1.15"/>
<circle cx="347.6" cy="214.6" r="1.15"/>
<circle cx="348.6" cy="216.4" r="1.15"/>
<circle cx="348.5" cy="217.6" r="1.15"/>
<circle cx="349.1" cy="220.2" r="1.15"/>
<circle cx="349.5" cy="223.2" r="1.15"/>
<circle cx="351.4" cy="223.8" r="1.15"/>
<circle cx="350.4" cy="227.5" r="1.15"/>
<circle cx="252.2" cy="63.2" r="1.15"/>
<circle cx="252.6" cy="61.5" r="1.15"/>
<text x="254.5" y="205.60000000000002" class="lbl" textLength="23.3" lengthAdjust="spacingAndGlyphs">Site 2</text>
<polyline points="432.56,62.60 434.84,65.14 437.10,67.69 439.33,70.23 441.54,72.77 443.71,75.32 445.86,77.86 447.99,80.41 450.08,82.95 452.15,85.49 454.19,88.04 456.20,90.58 458.19,93.12 460.15,95.67 462.08,98.21 463.98,100.75 465.86,103.30 467.71,105.84 469.53,108.38 471.33,110.93 473.09,113.47 474.83,116.02 476.55,118.56 478.23,121.10 479.89,123.65 481.52,126.19 483.13,128.73 484.71,131.28 486.26,133.82 487.78,136.36 489.27,138.91 490.74,141.45 492.18,143.99 493.60,146.54 494.98,149.08 496.34,151.63 497.67,154.17 498.98,156.71 500.26,159.26 501.51,161.80" stroke="#111" stroke-width="1.35" fill="none" stroke-linejoin="round"/>
<circle cx="408.6" cy="64.1" r="1.15"/>
<circle cx="410.5" cy="63.6" r="1.15"/>
<circle cx="411.6" cy="63.7" r="1.15"/>
<circle cx="413.4" cy="65.1" r="1.15"/>
<circle cx="414.3" cy="66.7" r="1.15"/>
<circle cx="417.5" cy="67.6" r="1.15"/>
<circle cx="418.9" cy="68.2" r="1.15"/>
<circle cx="420.9" cy="69.6" r="1.15"/>
<circle cx="422.0" cy="69.7" r="1.15"/>
<circle cx="423.0" cy="71.4" r="1.15"/>
<circle cx="426.2" cy="72.0" r="1.15"/>
<circle cx="427.9" cy="73.8" r="1.15"/>
<circle cx="430.1" cy="72.5" r="1.15"/>
<circle cx="431.3" cy="74.9" r="1.15"/>
<circle cx="433.4" cy="75.1" r="1.15"/>
<circle cx="435.4" cy="75.0" r="1.15"/>
<circle cx="435.3" cy="77.1" r="1.15"/>
<circle cx="437.7" cy="78.1" r="1.15"/>
<circle cx="439.9" cy="78.3" r="1.15"/>
<circle cx="440.2" cy="79.9" r="1.15"/>
<circle cx="441.1" cy="81.8" r="1.15"/>
<circle cx="443.5" cy="82.6" r="1.15"/>
<circle cx="444.8" cy="84.2" r="1.15"/>
<circle cx="447.4" cy="85.2" r="1.15"/>
<circle cx="449.6" cy="86.2" r="1.15"/>
<circle cx="450.5" cy="86.6" r="1.15"/>
<circle cx="451.9" cy="89.0" r="1.15"/>
<circle cx="453.2" cy="90.5" r="1.15"/>
<circle cx="454.1" cy="92.1" r="1.15"/>
<circle cx="456.1" cy="92.1" r="1.15"/>
<circle cx="455.0" cy="94.5" r="1.15"/>
<circle cx="455.8" cy="96.4" r="1.15"/>
<circle cx="457.9" cy="97.3" r="1.15"/>
<circle cx="459.1" cy="98.7" r="1.15"/>
<circle cx="459.5" cy="102.0" r="1.15"/>
<circle cx="463.1" cy="102.4" r="1.15"/>
<circle cx="463.0" cy="104.8" r="1.15"/>
<circle cx="462.6" cy="106.6" r="1.15"/>
<circle cx="465.9" cy="107.0" r="1.15"/>
<circle cx="466.4" cy="109.4" r="1.15"/>
<circle cx="466.0" cy="110.4" r="1.15"/>
<circle cx="469.0" cy="112.0" r="1.15"/>
<circle cx="469.9" cy="114.3" r="1.15"/>
<circle cx="470.6" cy="115.9" r="1.15"/>
<circle cx="472.6" cy="117.0" r="1.15"/>
<circle cx="472.7" cy="118.5" r="1.15"/>
<circle cx="473.1" cy="119.9" r="1.15"/>
<circle cx="474.0" cy="122.9" r="1.15"/>
<circle cx="475.0" cy="123.6" r="1.15"/>
<circle cx="476.1" cy="126.3" r="1.15"/>
<circle cx="477.4" cy="128.2" r="1.15"/>
<circle cx="477.3" cy="129.2" r="1.15"/>
<circle cx="477.1" cy="131.3" r="1.15"/>
<circle cx="478.8" cy="133.9" r="1.15"/>
<circle cx="480.1" cy="134.9" r="1.15"/>
<circle cx="480.6" cy="135.6" r="1.15"/>
<circle cx="480.0" cy="138.6" r="1.15"/>
<circle cx="482.2" cy="139.3" r="1.15"/>
<circle cx="484.6" cy="141.7" r="1.15"/>
<circle cx="487.5" cy="142.0" r="1.15"/>
<circle cx="485.8" cy="143.7" r="1.15"/>
<circle cx="487.4" cy="146.5" r="1.15"/>
<circle cx="487.6" cy="148.9" r="1.15"/>
<circle cx="489.0" cy="149.7" r="1.15"/>
<circle cx="489.9" cy="150.8" r="1.15"/>
<circle cx="490.5" cy="153.1" r="1.15"/>
<circle cx="492.6" cy="153.4" r="1.15"/>
<circle cx="491.3" cy="155.8" r="1.15"/>
<circle cx="493.2" cy="159.2" r="1.15"/>
<circle cx="494.3" cy="160.2" r="1.15"/>
<circle cx="493.7" cy="162.3" r="1.15"/>
<circle cx="494.4" cy="165.0" r="1.15"/>
<circle cx="496.9" cy="165.1" r="1.15"/>
<circle cx="497.4" cy="167.9" r="1.15"/>
<circle cx="497.5" cy="169.9" r="1.15"/>
<circle cx="497.8" cy="170.5" r="1.15"/>
<circle cx="498.9" cy="172.3" r="1.15"/>
<circle cx="499.9" cy="174.1" r="1.15"/>
<circle cx="498.4" cy="176.6" r="1.15"/>
<circle cx="500.0" cy="178.8" r="1.15"/>
<circle cx="501.8" cy="179.6" r="1.15"/>
<circle cx="502.7" cy="181.7" r="1.15"/>
<circle cx="501.1" cy="183.7" r="1.15"/>
<circle cx="502.8" cy="186.8" r="1.15"/>
<circle cx="502.6" cy="187.8" r="1.15"/>
<circle cx="504.0" cy="189.6" r="1.15"/>
<circle cx="506.0" cy="191.2" r="1.15"/>
<circle cx="506.2" cy="193.9" r="1.15"/>
<circle cx="508.1" cy="194.2" r="1.15"/>
<circle cx="508.2" cy="197.4" r="1.15"/>
<circle cx="508.1" cy="198.6" r="1.15"/>
<circle cx="508.4" cy="200.6" r="1.15"/>
<circle cx="509.8" cy="202.2" r="1.15"/>
<circle cx="509.7" cy="203.3" r="1.15"/>
<circle cx="510.0" cy="206.0" r="1.15"/>
<circle cx="510.5" cy="207.4" r="1.15"/>
<circle cx="510.7" cy="209.0" r="1.15"/>
<circle cx="511.8" cy="212.4" r="1.15"/>
<circle cx="512.3" cy="213.0" r="1.15"/>
<circle cx="512.0" cy="215.6" r="1.15"/>
<circle cx="513.0" cy="218.0" r="1.15"/>
<circle cx="513.8" cy="219.5" r="1.15"/>
<circle cx="513.9" cy="221.0" r="1.15"/>
<circle cx="513.8" cy="223.4" r="1.15"/>
<circle cx="514.1" cy="225.4" r="1.15"/>
<circle cx="514.2" cy="227.8" r="1.15"/>
<circle cx="514.3" cy="228.4" r="1.15"/>
<circle cx="514.4" cy="231.2" r="1.15"/>
<circle cx="514.7" cy="232.6" r="1.15"/>
<circle cx="515.6" cy="234.5" r="1.15"/>
<circle cx="495.7" cy="173.0" r="1.15"/>
<circle cx="506.2" cy="198.7" r="1.15"/>
<circle cx="404.0" cy="63.2" r="1.15"/>
<text x="416.3" y="211.10000000000002" class="lbl" textLength="29.2" lengthAdjust="spacingAndGlyphs">SITE A</text>
<polyline points="90.31,234.50 92.60,237.21 94.87,239.91 97.12,242.62 99.34,245.32 101.55,248.03 103.73,250.73 105.89,253.44 108.03,256.14 110.14,258.85 112.24,261.55 114.31,264.26 116.36,266.96 118.39,269.67 120.40,272.37 122.38,275.08 124.35,277.78 126.29,280.49 128.21,283.19 130.10,285.90 131.98,288.60 133.83,291.31 135.67,294.01 137.48,296.72 139.27,299.42 141.03,302.13 142.78,304.83 144.50,307.54 146.20,310.24 147.88,312.95 149.54,315.65 151.17,318.36 152.79,321.06 154.38,323.77 155.95,326.47 157.49,329.18 159.02,331.88 160.52,334.59 162.01,337.29 163.47,340.00" stroke="#111" stroke-width="1.35" fill="none" stroke-linejoin="round"/>
<circle cx="83.7" cy="240.2" r="1.15"/>
<circle cx="84.0" cy="242.4" r="1.15"/>
<circle cx="85.7" cy="243.6" r="1.15"/>
<circle cx="85.3" cy="244.3" r="1.15"/>
<circle cx="86.4" cy="246.4" r="1.15"/>
<circle cx="87.9" cy="246.2" r="1.15"/>
<circle cx="86.1" cy="249.6" r="1.15"/>
<circle cx="89.9" cy="248.9" r="1.15"/>
<circle cx="88.9" cy="250.6" r="1.15"/>
<circle cx="90.9" cy="251.0" r="1.15"/>
<circle cx="91.1" cy="253.1" r="1.15"/>
<circle cx="95.5" cy="251.1" r="1.15"/>
<circle cx="94.4" cy="252.9" r="1.15"/>
<circle cx="95.1" cy="255.2" r="1.15"/>
<circle cx="95.8" cy="256.3" r="1.15"/>
<circle cx="95.4" cy="258.9" r="1.15"/>
<circle cx="97.9" cy="257.4" r="1.15"/>
<circle cx="98.2" cy="259.2" r="1.15"/>
<circle cx="99.3" cy="259.3" r="1.15"/>
<circle cx="100.4" cy="260.4" r="1.15"/>
<circle cx="101.7" cy="260.7" r="1.15"/>
<circle cx="104.1" cy="261.4" r="1.15"/>
<circle cx="104.0" cy="262.6" r="1.15"/>
<circle cx="106.4" cy="261.9" r="1.15"/>
<circle cx="105.2" cy="264.9" r="1.15"/>
<circle cx="109.0" cy="264.7" r="1.15"/>
<circle cx="108.6" cy="266.8" r="1.15"/>
<circle cx="107.4" cy="269.2" r="1.15"/>
<circle cx="110.3" cy="267.9" r="1.15"/>
<circle cx="110.9" cy="269.2" r="1.15"/>
<circle cx="110.5" cy="271.2" r="1.15"/>
<circle cx="112.6" cy="271.7" r="1.15"/>
<circle cx="114.0" cy="271.9" r="1.15"/>
<circle cx="113.9" cy="274.1" r="1.15"/>
<circle cx="114.3" cy="275.3" r="1.15"/>
<circle cx="115.8" cy="277.2" r="1.15"/>
<circle cx="118.1" cy="276.8" r="1.15"/>
<circle cx="116.4" cy="279.7" r="1.15"/>
<circle cx="117.2" cy="280.3" r="1.15"/>
<circle cx="120.4" cy="280.4" r="1.15"/>
<circle cx="120.5" cy="280.9" r="1.15"/>
<circle cx="122.1" cy="281.3" r="1.15"/>
<circle cx="121.1" cy="283.6" r="1.15"/>
<circle cx="124.4" cy="283.0" r="1.15"/>
<circle cx="124.1" cy="285.3" r="1.15"/>
<circle cx="126.1" cy="285.5" r="1.15"/>
<circle cx="127.0" cy="286.1" r="1.15"/>
<circle cx="126.4" cy="288.6" r="1.15"/>
<circle cx="126.1" cy="289.6" r="1.15"/>
<circle cx="128.5" cy="290.1" r="1.15"/>
<circle cx="129.8" cy="290.7" r="1.15"/>
<circle cx="129.0" cy="293.2" r="1.15"/>
<circle cx="130.4" cy="293.4" r="1.15"/>
<circle cx="130.6" cy="294.9" r="1.15"/>
<circle cx="130.1" cy="297.2" r="1.15"/>
<circle cx="131.1" cy="298.1" r="1.15"/>
<circle cx="133.9" cy="298.6" r="1.15"/>
<circle cx="131.5" cy="301.6" r="1.15"/>
<circle cx="134.9" cy="301.5" r="1.15"/>
<circle cx="134.6" cy="303.1" r="1.15"/>
<circle cx="137.0" cy="303.4" r="1.15"/>
<circle cx="137.1" cy="305.1" r="1.15"/>
<circle cx="139.4" cy="304.6" r="1.15"/>
<circle cx="136.1" cy="308.1" r="1.15"/>
<circle cx="137.8" cy="309.7" r="1.15"/>
<circle cx="140.8" cy="308.2" r="1.15"/>
<circle cx="142.2" cy="309.9" r="1.15"/>
<circle cx="143.0" cy="310.9" r="1.15"/>
<circle cx="140.1" cy="313.2" r="1.15"/>
<circle cx="143.2" cy="314.2" r="1.15"/>
<circle cx="143.5" cy="315.8" r="1.15"/>
<circle cx="144.3" cy="316.5" r="1.15"/>
<circle cx="144.9" cy="317.9" r="1.15"/>
<circle cx="146.7" cy="318.5" r="1.15"/>
<circle cx="145.7" cy="319.6" r="1.15"/>
<circle cx="148.3" cy="320.3" r="1.15"/>
<circle cx="147.5" cy="322.3" r="1.15"/>
<circle cx="148.1" cy="324.1" r="1.15"/>
<circle cx="148.7" cy="325.4" r="1.15"/>
<circle cx="150.2" cy="326.0" r="1.15"/>
<circle cx="151.5" cy="326.4" r="1.15"/>
<circle cx="151.4" cy="328.7" r="1.15"/>
<circle cx="152.7" cy="329.1" r="1.15"/>
<circle cx="151.0" cy="331.6" r="1.15"/>
<circle cx="152.3" cy="331.8" r="1.15"/>
<circle cx="153.8" cy="332.2" r="1.15"/>
<circle cx="154.8" cy="333.5" r="1.15"/>
<circle cx="155.7" cy="334.9" r="1.15"/>
<circle cx="156.3" cy="335.9" r="1.15"/>
<circle cx="156.3" cy="338.4" r="1.15"/>
<circle cx="155.7" cy="339.6" r="1.15"/>
<circle cx="155.8" cy="341.1" r="1.15"/>
<circle cx="156.1" cy="342.4" r="1.15"/>
<circle cx="154.5" cy="344.3" r="1.15"/>
<circle cx="158.3" cy="344.5" r="1.15"/>
<circle cx="157.6" cy="345.4" r="1.15"/>
<circle cx="154.7" cy="348.7" r="1.15"/>
<circle cx="160.9" cy="348.5" r="1.15"/>
<circle cx="159.5" cy="349.9" r="1.15"/>
<circle cx="158.9" cy="351.5" r="1.15"/>
<circle cx="159.3" cy="353.0" r="1.15"/>
<circle cx="159.1" cy="353.6" r="1.15"/>
<circle cx="160.5" cy="355.6" r="1.15"/>
<circle cx="159.9" cy="356.5" r="1.15"/>
<circle cx="160.5" cy="357.5" r="1.15"/>
<circle cx="160.0" cy="359.3" r="1.15"/>
<circle cx="163.8" cy="360.5" r="1.15"/>
<circle cx="162.7" cy="361.4" r="1.15"/>
<circle cx="162.1" cy="363.7" r="1.15"/>
<circle cx="163.9" cy="364.9" r="1.15"/>
<circle cx="164.1" cy="365.6" r="1.15"/>
<circle cx="162.5" cy="367.4" r="1.15"/>
<circle cx="164.6" cy="368.3" r="1.15"/>
<circle cx="163.6" cy="370.4" r="1.15"/>
<circle cx="164.0" cy="371.9" r="1.15"/>
<circle cx="165.0" cy="372.7" r="1.15"/>
<circle cx="165.3" cy="374.1" r="1.15"/>
<circle cx="166.2" cy="374.4" r="1.15"/>
<circle cx="168.3" cy="375.2" r="1.15"/>
<circle cx="167.2" cy="377.2" r="1.15"/>
<circle cx="167.3" cy="379.4" r="1.15"/>
<circle cx="168.7" cy="379.7" r="1.15"/>
<circle cx="168.8" cy="381.5" r="1.15"/>
<circle cx="168.0" cy="382.4" r="1.15"/>
<circle cx="170.5" cy="383.0" r="1.15"/>
<circle cx="169.2" cy="385.3" r="1.15"/>
<circle cx="168.5" cy="387.7" r="1.15"/>
<circle cx="171.9" cy="387.8" r="1.15"/>
<circle cx="171.6" cy="389.4" r="1.15"/>
<circle cx="172.3" cy="390.0" r="1.15"/>
<circle cx="72.5" cy="240.0" r="1.15"/>
<circle cx="75.0" cy="239.0" r="1.15"/>
<circle cx="78.0" cy="240.5" r="1.15"/>
<circle cx="88.0" cy="249.8" r="1.15"/>
<circle cx="95.0" cy="252.2" r="1.15"/>
<circle cx="105.5" cy="265.0" r="1.15"/>
<circle cx="109.0" cy="267.3" r="1.15"/>
<circle cx="111.3" cy="280.2" r="1.15"/>
<circle cx="112.8" cy="279.0" r="1.15"/>
<circle cx="118.3" cy="283.7" r="1.15"/>
<circle cx="125.3" cy="273.2" r="1.15"/>
<circle cx="111.3" cy="258.0" r="1.15"/>
<circle cx="134.7" cy="307.0" r="1.15"/>
<circle cx="141.7" cy="331.3" r="1.15"/>
<circle cx="142.0" cy="333.0" r="1.15"/>
<circle cx="146.0" cy="328.0" r="1.15"/>
<circle cx="155.7" cy="360.5" r="1.15"/>
<circle cx="158.0" cy="365.2" r="1.15"/>
<circle cx="163.8" cy="374.5" r="1.15"/>
<circle cx="171.0" cy="359.3" r="1.15"/>
<circle cx="168.5" cy="389.7" r="1.15"/>
<circle cx="174.3" cy="390.8" r="1.15"/>
<circle cx="160.3" cy="345.3" r="1.15"/>
<circle cx="152.2" cy="343.0" r="1.15"/>
<circle cx="156.0" cy="348.0" r="1.15"/>
<text x="79.8" y="381.1" class="lbl" textLength="30.4" lengthAdjust="spacingAndGlyphs">Summit</text>
<polyline points="272.40,234.20 274.58,236.08 276.72,237.96 278.83,239.84 280.90,241.72 282.95,243.60 284.95,245.48 286.93,247.36 288.87,249.24 290.78,251.12 292.66,252.99 294.51,254.87 296.32,256.75 298.10,258.63 299.84,260.51 301.55,262.39 303.23,264.27 304.88,266.15 306.49,268.03 308.07,269.91 309.62,271.79 311.13,273.67 312.61,275.55 314.06,277.43 315.48,279.31 316.86,281.19 318.21,283.07 319.52,284.95 320.80,286.83 322.05,288.71 323.27,290.58 324.45,292.46 325.61,294.34 326.72,296.22 327.81,298.10 328.86,299.98 329.88,301.86 330.86,303.74 331.82,305.62 332.73,307.50" stroke="#111" stroke-width="1.35" fill="none" stroke-linejoin="round"/>
<circle cx="272.3" cy="239.7" r="1.15"/>
<circle cx="274.8" cy="239.8" r="1.15"/>
<circle cx="275.4" cy="241.7" r="1.15"/>
<circle cx="274.9" cy="243.7" r="1.15"/>
<circle cx="277.9" cy="241.8" r="1.15"/>
<circle cx="275.9" cy="245.7" r="1.15"/>
<circle cx="279.8" cy="243.2" r="1.15"/>
<circle cx="280.8" cy="245.2" r="1.15"/>
<circle cx="281.6" cy="246.1" r="1.15"/>
<circle cx="281.9" cy="247.8" r="1.15"/>
<circle cx="285.0" cy="246.3" r="1.15"/>
<circle cx="286.1" cy="245.6" r="1.15"/>
<circle cx="284.5" cy="249.2" r="1.15"/>
<circle cx="285.4" cy="250.3" r="1.15"/>
<circle cx="286.9" cy="251.2" r="1.15"/>
<circle cx="286.4" cy="254.3" r="1.15"/>
<circle cx="289.8" cy="252.6" r="1.15"/>
<circle cx="290.5" cy="253.3" r="1.15"/>
<circle cx="290.9" cy="254.8" r="1.15"/>
<circle cx="292.5" cy="255.0" r="1.15"/>
<circle cx="292.1" cy="257.0" r="1.15"/>
<circle cx="295.8" cy="254.7" r="1.15"/>
<circle cx="295.5" cy="256.0" r="1.15"/>
<circle cx="300.0" cy="254.2" r="1.15"/>
<circle cx="296.5" cy="259.1" r="1.15"/>
<circle cx="299.3" cy="259.3" r="1.15"/>
<circle cx="298.9" cy="261.3" r="1.15"/>
<circle cx="298.6" cy="263.2" r="1.15"/>
<circle cx="301.2" cy="261.4" r="1.15"/>
<circle cx="302.6" cy="261.9" r="1.15"/>
<circle cx="304.3" cy="262.5" r="1.15"/>
<circle cx="305.7" cy="262.9" r="1.15"/>
<circle cx="306.0" cy="263.4" r="1.15"/>
<circle cx="306.0" cy="265.6" r="1.15"/>
<circle cx="308.0" cy="266.0" r="1.15"/>
<circle cx="309.1" cy="266.8" r="1.15"/>
<circle cx="310.2" cy="267.2" r="1.15"/>
<circle cx="310.1" cy="269.0" r="1.15"/>
<circle cx="311.8" cy="269.6" r="1.15"/>
<circle cx="312.8" cy="269.3" r="1.15"/>
<circle cx="313.3" cy="271.3" r="1.15"/>
<circle cx="315.1" cy="271.5" r="1.15"/>
<circle cx="317.4" cy="272.0" r="1.15"/>
<circle cx="315.3" cy="275.1" r="1.15"/>
<circle cx="317.4" cy="275.3" r="1.15"/>
<circle cx="319.4" cy="274.6" r="1.15"/>
<circle cx="317.9" cy="277.2" r="1.15"/>
<circle cx="319.5" cy="277.5" r="1.15"/>
<circle cx="323.0" cy="277.5" r="1.15"/>
<circle cx="320.1" cy="281.0" r="1.15"/>
<circle cx="322.0" cy="280.6" r="1.15"/>
<circle cx="321.9" cy="281.8" r="1.15"/>
<circle cx="323.8" cy="282.8" r="1.15"/>
<circle cx="325.0" cy="283.7" r="1.15"/>
<circle cx="327.2" cy="283.5" r="1.15"/>
<circle cx="324.8" cy="286.3" r="1.15"/>
<circle cx="326.9" cy="287.1" r="1.15"/>
<circle cx="328.1" cy="288.3" r="1.15"/>
<circle cx="327.6" cy="289.1" r="1.15"/>
<circle cx="328.4" cy="289.7" r="1.15"/>
<circle cx="328.6" cy="291.6" r="1.15"/>
<circle cx="330.6" cy="292.1" r="1.15"/>
<circle cx="330.8" cy="293.8" r="1.15"/>
<circle cx="333.8" cy="293.6" r="1.15"/>
<circle cx="331.9" cy="296.5" r="1.15"/>
<circle cx="330.4" cy="297.5" r="1.15"/>
<circle cx="329.3" cy="298.3" r="1.15"/>
<circle cx="331.4" cy="299.6" r="1.15"/>
<circle cx="330.5" cy="301.8" r="1.15"/>
<circle cx="328.1" cy="301.6" r="1.15"/>
<circle cx="326.6" cy="305.6" r="1.15"/>
<circle cx="325.6" cy="307.6" r="1.15"/>
<circle cx="333.7" cy="303.7" r="1.15"/>
<circle cx="333.8" cy="306.2" r="1.15"/>
<circle cx="340.8" cy="303.3" r="1.15"/>
<circle cx="328.4" cy="313.1" r="1.15"/>
<circle cx="336.9" cy="308.7" r="1.15"/>
<circle cx="335.0" cy="310.3" r="1.15"/>
<circle cx="334.6" cy="312.8" r="1.15"/>
<circle cx="340.3" cy="309.0" r="1.15"/>
<circle cx="337.3" cy="315.1" r="1.15"/>
<circle cx="339.4" cy="314.7" r="1.15"/>
<circle cx="344.2" cy="310.3" r="1.15"/>
<circle cx="339.8" cy="316.6" r="1.15"/>
<circle cx="338.3" cy="319.8" r="1.15"/>
<circle cx="347.5" cy="313.4" r="1.15"/>
<circle cx="341.0" cy="321.0" r="1.15"/>
<circle cx="343.0" cy="320.1" r="1.15"/>
<circle cx="343.1" cy="322.3" r="1.15"/>
<circle cx="343.6" cy="323.2" r="1.15"/>
<circle cx="341.3" cy="325.6" r="1.15"/>
<circle cx="346.8" cy="324.6" r="1.15"/>
<circle cx="343.6" cy="327.1" r="1.15"/>
<circle cx="348.2" cy="326.2" r="1.15"/>
<circle cx="344.8" cy="328.8" r="1.15"/>
<circle cx="350.5" cy="328.1" r="1.15"/>
<circle cx="348.8" cy="330.7" r="1.15"/>
<circle cx="342.7" cy="333.3" r="1.15"/>
<circle cx="347.5" cy="333.0" r="1.15"/>
<circle cx="350.2" cy="334.2" r="1.15"/>
<circle cx="353.7" cy="333.7" r="1.15"/>
<circle cx="352.9" cy="335.1" r="1.15"/>
<circle cx="349.8" cy="337.3" r="1.15"/>
<circle cx="347.7" cy="339.8" r="1.15"/>
<circle cx="349.8" cy="340.3" r="1.15"/>
<circle cx="349.9" cy="342.3" r="1.15"/>
<circle cx="352.1" cy="343.0" r="1.15"/>
<circle cx="347.5" cy="345.4" r="1.15"/>
<circle cx="353.7" cy="344.4" r="1.15"/>
<circle cx="354.5" cy="345.4" r="1.15"/>
<circle cx="349.6" cy="347.6" r="1.15"/>
<circle cx="352.9" cy="348.8" r="1.15"/>
<circle cx="354.3" cy="350.1" r="1.15"/>
<circle cx="355.5" cy="350.9" r="1.15"/>
<circle cx="354.5" cy="352.0" r="1.15"/>
<circle cx="351.5" cy="353.7" r="1.15"/>
<circle cx="352.5" cy="355.2" r="1.15"/>
<circle cx="358.1" cy="356.7" r="1.15"/>
<circle cx="352.1" cy="357.7" r="1.15"/>
<circle cx="352.9" cy="359.1" r="1.15"/>
<circle cx="356.9" cy="360.7" r="1.15"/>
<circle cx="350.6" cy="360.3" r="1.15"/>
<circle cx="353.9" cy="363.1" r="1.15"/>
<circle cx="354.0" cy="363.7" r="1.15"/>
<circle cx="349.7" cy="364.6" r="1.15"/>
<circle cx="347.7" cy="365.3" r="1.15"/>
<circle cx="354.5" cy="368.2" r="1.15"/>
<circle cx="350.5" cy="368.0" r="1.15"/>
<circle cx="354.8" cy="370.3" r="1.15"/>
<circle cx="343.3" cy="369.2" r="1.15"/>
<circle cx="253.3" cy="237.3" r="1.15"/>
<circle cx="260.3" cy="236.9" r="1.15"/>
<circle cx="256.0" cy="236.5" r="1.15"/>
<circle cx="323.3" cy="302.7" r="1.15"/>
<circle cx="325.7" cy="307.3" r="1.15"/>
<circle cx="322.0" cy="304.0" r="1.15"/>
<circle cx="357.0" cy="325.0" r="1.15"/>
<circle cx="358.0" cy="340.0" r="1.15"/>
<circle cx="359.0" cy="352.0" r="1.15"/>
<circle cx="344.0" cy="345.0" r="1.15"/>
<circle cx="347.0" cy="370.0" r="1.15"/>
<text x="253.3" y="380.3" class="lbl" textLength="16.4" lengthAdjust="spacingAndGlyphs">S25</text>
<polyline points="439.91,238.80 442.05,240.81 444.16,242.81 446.24,244.82 448.29,246.82 450.31,248.83 452.30,250.83 454.25,252.84 456.18,254.84 458.07,256.85 459.94,258.85 461.77,260.86 463.57,262.86 465.34,264.87 467.08,266.87 468.79,268.88 470.47,270.88 472.11,272.89 473.73,274.89 475.32,276.90 476.87,278.90 478.39,280.91 479.89,282.91 481.35,284.92 482.78,286.92 484.18,288.93 485.55,290.93 486.89,292.94 488.19,294.94 489.47,296.95 490.72,298.95 491.93,300.96 493.12,302.96 494.27,304.97 495.39,306.97 496.48,308.98 497.54,310.98 498.57,312.99 499.57,314.99 500.54,317.00" stroke="#111" stroke-width="1.35" fill="none" stroke-linejoin="round"/>
<circle cx="431.8" cy="242.3" r="1.15"/>
<circle cx="435.3" cy="241.2" r="1.15"/>
<circle cx="442.3" cy="245.8" r="1.15"/>
<circle cx="452.8" cy="251.7" r="1.15"/>
<circle cx="465.7" cy="270.3" r="1.15"/>
<circle cx="469.2" cy="268.0" r="1.15"/>
<circle cx="472.7" cy="285.5" r="1.15"/>
<circle cx="484.8" cy="294.1" r="1.15"/>
<circle cx="490.2" cy="304.2" r="1.15"/>
<circle cx="493.7" cy="307.7" r="1.15"/>
<circle cx="490.9" cy="313.5" r="1.15"/>
<circle cx="501.8" cy="317.0" r="1.15"/>
<circle cx="501.8" cy="321.7" r="1.15"/>
<circle cx="498.3" cy="325.5" r="1.15"/>
<circle cx="503.0" cy="326.3" r="1.15"/>
<circle cx="504.2" cy="328.5" r="1.15"/>
<circle cx="506.5" cy="332.0" r="1.15"/>
<circle cx="509.5" cy="335.5" r="1.15"/>
<circle cx="511.9" cy="337.8" r="1.15"/>
<circle cx="515.4" cy="349.5" r="1.15"/>
<circle cx="515.8" cy="354.2" r="1.15"/>
<circle cx="517.5" cy="365.8" r="1.15"/>
<circle cx="513.0" cy="373.5" r="1.15"/>
<circle cx="515.8" cy="378.2" r="1.15"/>
<circle cx="518.2" cy="384.5" r="1.15"/>
<circle cx="521.2" cy="388.0" r="1.15"/>
<circle cx="519.8" cy="392.7" r="1.15"/>
<text x="423.2" y="384.6" class="lbl" textLength="16.8" lengthAdjust="spacingAndGlyphs">H15</text>
<polyline points="91.34,409.10 93.93,411.72 96.49,414.34 99.01,416.96 101.48,419.58 103.92,422.20 106.31,424.82 108.66,427.44 110.97,430.06 113.24,432.68 115.47,435.31 117.66,437.93 119.81,440.55 121.92,443.17 123.98,445.79 126.01,448.41 127.99,451.03 129.93,453.65 131.84,456.27 133.70,458.89 135.52,461.51 137.29,464.13 139.03,466.75 140.73,469.37 142.39,471.99 144.00,474.61 145.58,477.23 147.11,479.85 148.60,482.47 150.05,485.09 151.46,487.72 152.83,490.34 154.16,492.96 155.45,495.58 156.69,498.20 157.90,500.82 159.06,503.44 160.19,506.06 161.27,508.68 162.31,511.30" stroke="#111" stroke-width="1.35" fill="none" stroke-linejoin="round"/>
<circle cx="101.3" cy="413.0" r="1.15"/>
<circle cx="103.1" cy="416.3" r="1.15"/>
<circle cx="105.9" cy="416.2" r="1.15"/>
<circle cx="107.3" cy="419.3" r="1.15"/>
<circle cx="111.4" cy="420.2" r="1.15"/>
<circle cx="113.5" cy="422.8" r="1.15"/>
<circle cx="113.8" cy="424.2" r="1.15"/>
<circle cx="116.2" cy="424.7" r="1.15"/>
<circle cx="119.8" cy="427.0" r="1.15"/>
<circle cx="120.1" cy="428.5" r="1.15"/>
<circle cx="121.4" cy="430.3" r="1.15"/>
<circle cx="125.8" cy="433.6" r="1.15"/>
<circle cx="125.7" cy="435.5" r="1.15"/>
<circle cx="126.2" cy="439.4" r="1.15"/>
<circle cx="126.9" cy="440.9" r="1.15"/>
<circle cx="127.1" cy="444.9" r="1.15"/>
<circle cx="127.1" cy="446.7" r="1.15"/>
<circle cx="127.8" cy="448.5" r="1.15"/>
<circle cx="128.6" cy="450.7" r="1.15"/>
<circle cx="130.1" cy="454.5" r="1.15"/>
<circle cx="131.5" cy="457.3" r="1.15"/>
<circle cx="132.1" cy="460.7" r="1.15"/>
<circle cx="132.5" cy="461.1" r="1.15"/>
<circle cx="134.3" cy="464.9" r="1.15"/>
<circle cx="135.2" cy="466.7" r="1.15"/>
<circle cx="138.0" cy="468.6" r="1.15"/>
<circle cx="137.9" cy="470.8" r="1.15"/>
<circle cx="139.4" cy="473.5" r="1.15"/>
<circle cx="142.0" cy="475.9" r="1.15"/>
<circle cx="143.6" cy="479.4" r="1.15"/>
<circle cx="143.5" cy="480.1" r="1.15"/>
<circle cx="146.4" cy="482.7" r="1.15"/>
<circle cx="147.6" cy="486.8" r="1.15"/>
<circle cx="152.8" cy="485.8" r="1.15"/>
<circle cx="151.8" cy="487.8" r="1.15"/>
<circle cx="154.6" cy="488.8" r="1.15"/>
<circle cx="155.2" cy="494.6" r="1.15"/>
<circle cx="155.0" cy="497.7" r="1.15"/>
<circle cx="159.8" cy="497.0" r="1.15"/>
<circle cx="158.3" cy="499.4" r="1.15"/>
<circle cx="159.8" cy="504.4" r="1.15"/>
<circle cx="160.9" cy="505.3" r="1.15"/>
<circle cx="161.2" cy="509.6" r="1.15"/>
<circle cx="164.1" cy="510.7" r="1.15"/>
<circle cx="162.6" cy="514.8" r="1.15"/>
<circle cx="163.4" cy="515.4" r="1.15"/>
<circle cx="165.8" cy="519.3" r="1.15"/>
<circle cx="166.8" cy="520.1" r="1.15"/>
<circle cx="167.3" cy="523.5" r="1.15"/>
<circle cx="169.8" cy="526.7" r="1.15"/>
<circle cx="170.1" cy="529.5" r="1.15"/>
<circle cx="171.0" cy="530.2" r="1.15"/>
<circle cx="173.4" cy="532.6" r="1.15"/>
<circle cx="172.1" cy="536.2" r="1.15"/>
<circle cx="172.5" cy="539.3" r="1.15"/>
<circle cx="172.4" cy="541.7" r="1.15"/>
<circle cx="174.2" cy="543.5" r="1.15"/>
<circle cx="174.1" cy="546.7" r="1.15"/>
<circle cx="174.3" cy="550.8" r="1.15"/>
<circle cx="175.3" cy="553.8" r="1.15"/>
<circle cx="174.4" cy="554.4" r="1.15"/>
<circle cx="174.6" cy="558.7" r="1.15"/>
<circle cx="177.7" cy="561.4" r="1.15"/>
<circle cx="178.8" cy="562.0" r="1.15"/>
<circle cx="177.0" cy="567.3" r="1.15"/>
<circle cx="176.4" cy="568.1" r="1.15"/>
<circle cx="177.2" cy="572.1" r="1.15"/>
<circle cx="177.5" cy="574.7" r="1.15"/>
<circle cx="179.2" cy="577.5" r="1.15"/>
<circle cx="179.6" cy="579.3" r="1.15"/>
<circle cx="88.3" cy="412.2" r="1.15"/>
<circle cx="130.8" cy="473.5" r="1.15"/>
<circle cx="147.8" cy="504.9" r="1.15"/>
<circle cx="165.8" cy="508.8" r="1.15"/>
<circle cx="166.5" cy="550.1" r="1.15"/>
<circle cx="174.2" cy="571.1" r="1.15"/>
<text x="80.2" y="558.5999999999999" class="lbl" textLength="11.6" lengthAdjust="spacingAndGlyphs">G2</text>
<polyline points="260.42,409.00 262.77,411.81 265.09,414.63 267.39,417.44 269.66,420.25 271.90,423.06 274.12,425.88 276.31,428.69 278.48,431.50 280.61,434.32 282.73,437.13 284.82,439.94 286.88,442.75 288.91,445.57 290.92,448.38 292.91,451.19 294.86,454.01 296.79,456.82 298.70,459.63 300.58,462.44 302.43,465.26 304.26,468.07 306.06,470.88 307.84,473.69 309.59,476.51 311.31,479.32 313.01,482.13 314.68,484.95 316.33,487.76 317.95,490.57 319.54,493.38 321.11,496.20 322.65,499.01 324.17,501.82 325.66,504.64 327.12,507.45 328.56,510.26 329.97,513.07 331.35,515.89 332.71,518.70" stroke="#111" stroke-width="1.35" fill="none" stroke-linejoin="round"/>
<circle cx="255.2" cy="409.0" r="1.15"/>
<circle cx="256.7" cy="408.5" r="1.15"/>
<circle cx="258.1" cy="409.4" r="1.15"/>
<circle cx="259.2" cy="412.0" r="1.15"/>
<circle cx="260.1" cy="411.0" r="1.15"/>
<circle cx="262.7" cy="412.5" r="1.15"/>
<circle cx="263.4" cy="413.5" r="1.15"/>
<circle cx="264.2" cy="414.8" r="1.15"/>
<circle cx="266.1" cy="416.2" r="1.15"/>
<circle cx="267.1" cy="415.8" r="1.15"/>
<circle cx="270.0" cy="416.1" r="1.15"/>
<circle cx="270.8" cy="416.5" r="1.15"/>
<circle cx="271.5" cy="418.3" r="1.15"/>
<circle cx="273.8" cy="418.8" r="1.15"/>
<circle cx="275.3" cy="417.7" r="1.15"/>
<circle cx="276.2" cy="418.8" r="1.15"/>
<circle cx="278.6" cy="419.5" r="1.15"/>
<circle cx="279.1" cy="419.5" r="1.15"/>
<circle cx="282.0" cy="420.3" r="1.15"/>
<circle cx="282.9" cy="419.9" r="1.15"/>
<circle cx="284.6" cy="421.6" r="1.15"/>
<circle cx="286.9" cy="422.0" r="1.15"/>
<circle cx="286.4" cy="424.7" r="1.15"/>
<circle cx="288.1" cy="425.1" r="1.15"/>
<circle cx="289.9" cy="424.5" r="1.15"/>
<circle cx="289.4" cy="427.0" r="1.15"/>
<circle cx="291.0" cy="427.6" r="1.15"/>
<circle cx="294.0" cy="426.8" r="1.15"/>
<circle cx="293.7" cy="430.9" r="1.15"/>
<circle cx="295.3" cy="431.0" r="1.15"/>
<circle cx="295.9" cy="433.0" r="1.15"/>
<circle cx="299.5" cy="432.2" r="1.15"/>
<circle cx="298.8" cy="433.6" r="1.15"/>
<circle cx="300.2" cy="434.7" r="1.15"/>
<circle cx="301.9" cy="436.2" r="1.15"/>
<circle cx="302.4" cy="436.6" r="1.15"/>
<circle cx="302.9" cy="438.3" r="1.15"/>
<circle cx="306.1" cy="438.3" r="1.15"/>
<circle cx="306.7" cy="439.4" r="1.15"/>
<circle cx="308.2" cy="440.8" r="1.15"/>
<circle cx="308.5" cy="442.4" r="1.15"/>
<circle cx="310.0" cy="444.0" r="1.15"/>
<circle cx="310.3" cy="445.8" r="1.15"/>
<circle cx="311.0" cy="446.5" r="1.15"/>
<circle cx="312.5" cy="448.3" r="1.15"/>
<circle cx="313.8" cy="449.1" r="1.15"/>
<circle cx="314.2" cy="450.1" r="1.15"/>
<circle cx="314.4" cy="453.3" r="1.15"/>
<circle cx="314.7" cy="453.6" r="1.15"/>
<circle cx="315.7" cy="454.8" r="1.15"/>
<circle cx="316.6" cy="456.1" r="1.15"/>
<circle cx="315.8" cy="459.1" r="1.15"/>
<circle cx="318.3" cy="460.1" r="1.15"/>
<circle cx="318.2" cy="461.9" r="1.15"/>
<circle cx="318.6" cy="463.1" r="1.15"/>
<circle cx="320.5" cy="463.2" r="1.15"/>
<circle cx="320.6" cy="464.7" r="1.15"/>
<circle cx="323.5" cy="466.2" r="1.15"/>
<circle cx="322.0" cy="468.1" r="1.15"/>
<circle cx="322.8" cy="469.2" r="1.15"/>
<circle cx="324.5" cy="471.2" r="1.15"/>
<circle cx="322.6" cy="472.7" r="1.15"/>
<circle cx="324.7" cy="474.4" r="1.15"/>
<circle cx="323.5" cy="476.5" r="1.15"/>
<circle cx="325.4" cy="476.4" r="1.15"/>
<circle cx="326.3" cy="478.9" r="1.15"/>
<circle cx="326.1" cy="479.3" r="1.15"/>
<circle cx="327.8" cy="481.1" r="1.15"/>
<circle cx="328.2" cy="482.6" r="1.15"/>
<circle cx="329.5" cy="483.3" r="1.15"/>
<circle cx="329.3" cy="485.0" r="1.15"/>
<circle cx="331.4" cy="487.0" r="1.15"/>
<circle cx="331.5" cy="487.4" r="1.15"/>
<circle cx="335.0" cy="487.7" r="1.15"/>
<circle cx="333.7" cy="491.7" r="1.15"/>
<circle cx="334.7" cy="491.3" r="1.15"/>
<circle cx="337.0" cy="491.6" r="1.15"/>
<circle cx="337.0" cy="494.5" r="1.15"/>
<circle cx="337.5" cy="495.9" r="1.15"/>
<circle cx="338.0" cy="497.7" r="1.15"/>
<circle cx="340.6" cy="498.5" r="1.15"/>
<circle cx="338.8" cy="500.1" r="1.15"/>
<circle cx="340.9" cy="501.0" r="1.15"/>
<circle cx="339.4" cy="503.3" r="1.15"/>
<circle cx="342.0" cy="503.6" r="1.15"/>
<circle cx="342.3" cy="506.7" r="1.15"/>
<circle cx="343.7" cy="507.7" r="1.15"/>
<circle cx="344.7" cy="509.0" r="1.15"/>
<circle cx="342.9" cy="509.9" r="1.15"/>
<circle cx="343.7" cy="512.8" r="1.15"/>
<circle cx="343.3" cy="514.3" r="1.15"/>
<circle cx="344.1" cy="515.3" r="1.15"/>
<circle cx="345.6" cy="517.2" r="1.15"/>
<circle cx="346.7" cy="518.3" r="1.15"/>
<circle cx="345.9" cy="519.6" r="1.15"/>
<circle cx="346.1" cy="521.0" r="1.15"/>
<circle cx="346.3" cy="522.8" r="1.15"/>
<circle cx="345.2" cy="524.2" r="1.15"/>
<circle cx="345.5" cy="526.3" r="1.15"/>
<circle cx="346.0" cy="528.6" r="1.15"/>
<circle cx="345.5" cy="530.1" r="1.15"/>
<circle cx="345.7" cy="532.0" r="1.15"/>
<circle cx="345.3" cy="533.3" r="1.15"/>
<circle cx="344.7" cy="534.1" r="1.15"/>
<circle cx="344.3" cy="536.2" r="1.15"/>
<circle cx="345.6" cy="537.8" r="1.15"/>
<circle cx="346.2" cy="540.0" r="1.15"/>
<circle cx="343.5" cy="541.0" r="1.15"/>
<circle cx="344.6" cy="542.3" r="1.15"/>
<circle cx="343.8" cy="544.5" r="1.15"/>
<circle cx="346.4" cy="546.5" r="1.15"/>
<circle cx="345.2" cy="547.0" r="1.15"/>
<circle cx="345.2" cy="549.7" r="1.15"/>
<circle cx="346.6" cy="549.7" r="1.15"/>
<circle cx="346.0" cy="551.8" r="1.15"/>
<circle cx="345.1" cy="553.6" r="1.15"/>
<circle cx="345.2" cy="556.0" r="1.15"/>
<circle cx="345.2" cy="558.1" r="1.15"/>
<circle cx="347.6" cy="558.8" r="1.15"/>
<circle cx="348.3" cy="559.6" r="1.15"/>
<circle cx="347.2" cy="562.5" r="1.15"/>
<circle cx="347.0" cy="563.2" r="1.15"/>
<circle cx="347.9" cy="564.6" r="1.15"/>
<circle cx="349.6" cy="567.1" r="1.15"/>
<circle cx="347.9" cy="568.4" r="1.15"/>
<circle cx="348.0" cy="570.1" r="1.15"/>
<circle cx="348.4" cy="571.7" r="1.15"/>
<circle cx="349.5" cy="573.7" r="1.15"/>
<circle cx="348.8" cy="574.6" r="1.15"/>
<circle cx="348.6" cy="576.8" r="1.15"/>
<circle cx="318.0" cy="460.0" r="1.15"/>
<circle cx="320.0" cy="458.0" r="1.15"/>
<circle cx="340.0" cy="542.0" r="1.15"/>
<circle cx="341.0" cy="548.0" r="1.15"/>
<circle cx="342.3" cy="563.0" r="1.15"/>
<circle cx="343.0" cy="570.0" r="1.15"/>
<circle cx="345.0" cy="575.0" r="1.15"/>
<text x="256" y="556.0999999999999" class="lbl" textLength="28.7" lengthAdjust="spacingAndGlyphs">Mizuho</text>
<polyline points="425.13,412.10 427.79,415.08 430.41,418.06 433.00,421.04 435.54,424.02 438.04,427.00 440.50,429.98 442.92,432.96 445.30,435.94 447.64,438.92 449.94,441.89 452.19,444.87 454.41,447.85 456.59,450.83 458.72,453.81 460.82,456.79 462.87,459.77 464.89,462.75 466.86,465.73 468.80,468.71 470.69,471.69 472.54,474.67 474.35,477.65 476.12,480.63 477.86,483.61 479.55,486.59 481.20,489.57 482.81,492.55 484.37,495.53 485.90,498.51 487.39,501.48 488.84,504.46 490.24,507.44 491.61,510.42 492.94,513.40 494.22,516.38 495.47,519.36 496.67,522.34 497.83,525.32 498.96,528.30" stroke="#111" stroke-width="1.35" fill="none" stroke-linejoin="round"/>
<circle cx="420.7" cy="416.7" r="1.15"/>
<circle cx="422.7" cy="415.0" r="1.15"/>
<circle cx="423.3" cy="414.7" r="1.15"/>
<circle cx="424.9" cy="413.7" r="1.15"/>
<circle cx="426.1" cy="416.3" r="1.15"/>
<circle cx="427.9" cy="415.4" r="1.15"/>
<circle cx="428.5" cy="419.1" r="1.15"/>
<circle cx="430.3" cy="417.1" r="1.15"/>
<circle cx="431.2" cy="419.6" r="1.15"/>
<circle cx="432.5" cy="419.1" r="1.15"/>
<circle cx="435.2" cy="419.8" r="1.15"/>
<circle cx="435.7" cy="420.9" r="1.15"/>
<circle cx="437.7" cy="419.4" r="1.15"/>
<circle cx="437.3" cy="423.9" r="1.15"/>
<circle cx="438.8" cy="422.7" r="1.15"/>
<circle cx="441.1" cy="423.1" r="1.15"/>
<circle cx="441.2" cy="426.2" r="1.15"/>
<circle cx="440.5" cy="428.2" r="1.15"/>
<circle cx="442.9" cy="428.2" r="1.15"/>
<circle cx="447.9" cy="425.8" r="1.15"/>
<circle cx="445.3" cy="429.1" r="1.15"/>
<circle cx="445.4" cy="431.6" r="1.15"/>
<circle cx="445.0" cy="432.8" r="1.15"/>
<circle cx="448.3" cy="432.1" r="1.15"/>
<circle cx="447.6" cy="435.0" r="1.15"/>
<circle cx="447.6" cy="436.3" r="1.15"/>
<circle cx="449.5" cy="437.3" r="1.15"/>
<circle cx="454.3" cy="434.7" r="1.15"/>
<circle cx="453.7" cy="437.5" r="1.15"/>
<circle cx="454.8" cy="438.1" r="1.15"/>
<circle cx="455.8" cy="439.5" r="1.15"/>
<circle cx="456.0" cy="441.1" r="1.15"/>
<circle cx="454.7" cy="443.8" r="1.15"/>
<circle cx="458.1" cy="443.5" r="1.15"/>
<circle cx="460.6" cy="442.8" r="1.15"/>
<circle cx="462.4" cy="444.0" r="1.15"/>
<circle cx="460.0" cy="448.1" r="1.15"/>
<circle cx="463.3" cy="446.6" r="1.15"/>
<circle cx="463.0" cy="449.0" r="1.15"/>
<circle cx="460.8" cy="452.5" r="1.15"/>
<circle cx="460.9" cy="453.3" r="1.15"/>
<circle cx="461.5" cy="454.3" r="1.15"/>
<circle cx="467.9" cy="453.4" r="1.15"/>
<circle cx="462.8" cy="457.8" r="1.15"/>
<circle cx="466.9" cy="457.2" r="1.15"/>
<circle cx="465.1" cy="459.5" r="1.15"/>
<circle cx="468.0" cy="460.1" r="1.15"/>
<circle cx="465.9" cy="462.1" r="1.15"/>
<circle cx="468.7" cy="462.6" r="1.15"/>
<circle cx="469.0" cy="463.8" r="1.15"/>
<circle cx="469.9" cy="464.8" r="1.15"/>
<circle cx="472.1" cy="465.9" r="1.15"/>
<circle cx="470.5" cy="467.3" r="1.15"/>
<circle cx="469.5" cy="469.9" r="1.15"/>
<circle cx="474.4" cy="469.9" r="1.15"/>
<circle cx="472.4" cy="472.3" r="1.15"/>
<circle cx="475.3" cy="472.4" r="1.15"/>
<circle cx="476.1" cy="473.1" r="1.15"/>
<circle cx="477.6" cy="474.3" r="1.15"/>
<circle cx="471.1" cy="478.8" r="1.15"/>
<circle cx="475.2" cy="478.9" r="1.15"/>
<circle cx="476.7" cy="479.4" r="1.15"/>
<circle cx="474.6" cy="482.4" r="1.15"/>
<circle cx="481.8" cy="481.3" r="1.15"/>
<circle cx="477.5" cy="483.5" r="1.15"/>
<circle cx="479.8" cy="484.9" r="1.15"/>
<circle cx="477.6" cy="487.5" r="1.15"/>
<circle cx="482.2" cy="486.8" r="1.15"/>
<circle cx="479.6" cy="489.4" r="1.15"/>
<circle cx="480.7" cy="491.3" r="1.15"/>
<circle cx="477.6" cy="492.6" r="1.15"/>
<circle cx="482.6" cy="493.1" r="1.15"/>
<circle cx="481.9" cy="494.3" r="1.15"/>
<circle cx="481.8" cy="496.9" r="1.15"/>
<circle cx="482.5" cy="498.5" r="1.15"/>
<circle cx="482.5" cy="499.3" r="1.15"/>
<circle cx="483.8" cy="499.7" r="1.15"/>
<circle cx="486.9" cy="500.9" r="1.15"/>
<circle cx="482.5" cy="503.9" r="1.15"/>
<circle cx="481.8" cy="505.9" r="1.15"/>
<circle cx="485.8" cy="505.8" r="1.15"/>
<circle cx="488.0" cy="506.9" r="1.15"/>
<circle cx="484.7" cy="509.7" r="1.15"/>
<circle cx="489.4" cy="509.4" r="1.15"/>
<circle cx="487.1" cy="511.4" r="1.15"/>
<circle cx="491.8" cy="504.2" r="1.15"/>
<circle cx="490.0" cy="506.0" r="1.15"/>
<circle cx="483.2" cy="509.6" r="1.15"/>
<circle cx="487.0" cy="508.9" r="1.15"/>
<circle cx="481.7" cy="512.6" r="1.15"/>
<circle cx="480.9" cy="514.1" r="1.15"/>
<circle cx="488.7" cy="513.5" r="1.15"/>
<circle cx="486.9" cy="514.9" r="1.15"/>
<circle cx="492.2" cy="515.6" r="1.15"/>
<circle cx="490.1" cy="517.1" r="1.15"/>
<circle cx="485.3" cy="519.1" r="1.15"/>
<circle cx="494.6" cy="518.5" r="1.15"/>
<circle cx="492.6" cy="520.2" r="1.15"/>
<circle cx="489.4" cy="522.7" r="1.15"/>
<circle cx="491.1" cy="523.1" r="1.15"/>
<circle cx="491.9" cy="524.9" r="1.15"/>
<circle cx="499.7" cy="524.1" r="1.15"/>
<circle cx="492.3" cy="527.6" r="1.15"/>
<circle cx="491.6" cy="529.2" r="1.15"/>
<circle cx="491.6" cy="530.6" r="1.15"/>
<circle cx="491.4" cy="532.5" r="1.15"/>
<circle cx="488.2" cy="533.4" r="1.15"/>
<circle cx="483.0" cy="537.0" r="1.15"/>
<circle cx="497.7" cy="534.8" r="1.15"/>
<circle cx="497.1" cy="536.4" r="1.15"/>
<circle cx="490.8" cy="539.3" r="1.15"/>
<circle cx="503.1" cy="538.0" r="1.15"/>
<circle cx="498.5" cy="539.9" r="1.15"/>
<circle cx="498.1" cy="541.3" r="1.15"/>
<circle cx="499.4" cy="543.1" r="1.15"/>
<circle cx="499.6" cy="543.2" r="1.15"/>
<circle cx="500.8" cy="545.0" r="1.15"/>
<circle cx="499.4" cy="546.7" r="1.15"/>
<circle cx="494.3" cy="548.9" r="1.15"/>
<circle cx="490.2" cy="552.5" r="1.15"/>
<circle cx="504.1" cy="549.4" r="1.15"/>
<circle cx="495.6" cy="554.1" r="1.15"/>
<circle cx="495.6" cy="554.7" r="1.15"/>
<circle cx="497.0" cy="556.7" r="1.15"/>
<circle cx="491.8" cy="559.7" r="1.15"/>
<circle cx="497.7" cy="558.6" r="1.15"/>
<circle cx="494.7" cy="561.6" r="1.15"/>
<circle cx="503.4" cy="558.6" r="1.15"/>
<circle cx="506.4" cy="559.9" r="1.15"/>
<circle cx="495.3" cy="564.9" r="1.15"/>
<circle cx="500.3" cy="564.4" r="1.15"/>
<circle cx="507.7" cy="564.7" r="1.15"/>
<circle cx="502.4" cy="566.7" r="1.15"/>
<circle cx="498.7" cy="568.9" r="1.15"/>
<circle cx="506.3" cy="569.0" r="1.15"/>
<circle cx="501.1" cy="571.5" r="1.15"/>
<circle cx="509.0" cy="571.1" r="1.15"/>
<circle cx="500.6" cy="573.8" r="1.15"/>
<circle cx="502.1" cy="575.0" r="1.15"/>
<circle cx="504.2" cy="576.3" r="1.15"/>
<circle cx="504.9" cy="578.0" r="1.15"/>
<circle cx="504.3" cy="578.7" r="1.15"/>
<circle cx="497.8" cy="581.3" r="1.15"/>
<circle cx="476.3" cy="513.5" r="1.15"/>
<circle cx="515.5" cy="553.8" r="1.15"/>
<circle cx="516.0" cy="562.0" r="1.15"/>
<circle cx="476.0" cy="531.0" r="1.15"/>
<circle cx="484.0" cy="520.0" r="1.15"/>
<circle cx="511.0" cy="537.0" r="1.15"/>
<text x="422.7" y="558.5999999999999" class="lbl" textLength="17.5" lengthAdjust="spacingAndGlyphs">G15</text>
<polyline points="81.22,585.80 83.84,589.00 86.43,592.19 88.98,595.39 91.50,598.59 93.99,601.79 96.45,604.98 98.88,608.18 101.28,611.38 103.64,614.58 105.98,617.77 108.28,620.97 110.55,624.17 112.79,627.37 115.00,630.56 117.18,633.76 119.32,636.96 121.44,640.16 123.52,643.35 125.57,646.55 127.59,649.75 129.58,652.95 131.53,656.14 133.46,659.34 135.35,662.54 137.22,665.74 139.05,668.93 140.85,672.13 142.62,675.33 144.35,678.53 146.06,681.72 147.73,684.92 149.37,688.12 150.99,691.32 152.56,694.51 154.11,697.71 155.63,700.91 157.12,704.11 158.57,707.30 159.99,710.50" stroke="#111" stroke-width="1.35" fill="none" stroke-linejoin="round"/>
<circle cx="79.6" cy="590.5" r="1.15"/>
<circle cx="81.0" cy="591.2" r="1.15"/>
<circle cx="82.1" cy="590.1" r="1.15"/>
<circle cx="83.5" cy="588.7" r="1.15"/>
<circle cx="84.3" cy="590.7" r="1.15"/>
<circle cx="85.2" cy="592.1" r="1.15"/>
<circle cx="87.4" cy="591.2" r="1.15"/>
<circle cx="89.9" cy="590.1" r="1.15"/>
<circle cx="89.4" cy="591.7" r="1.15"/>
<circle cx="87.5" cy="595.3" r="1.15"/>
<circle cx="90.7" cy="593.2" r="1.15"/>
<circle cx="92.6" cy="594.0" r="1.15"/>
<circle cx="90.8" cy="596.5" r="1.15"/>
<circle cx="90.4" cy="598.2" r="1.15"/>
<circle cx="89.8" cy="600.0" r="1.15"/>
<circle cx="92.8" cy="598.9" r="1.15"/>
<circle cx="95.1" cy="599.5" r="1.15"/>
<circle cx="94.2" cy="600.9" r="1.15"/>
<circle cx="96.4" cy="601.9" r="1.15"/>
<circle cx="98.8" cy="600.2" r="1.15"/>
<circle cx="95.4" cy="605.6" r="1.15"/>
<circle cx="95.9" cy="605.7" r="1.15"/>
<circle cx="100.6" cy="603.0" r="1.15"/>
<circle cx="97.7" cy="608.1" r="1.15"/>
<circle cx="99.8" cy="607.0" r="1.15"/>
<circle cx="102.3" cy="607.2" r="1.15"/>
<circle cx="104.2" cy="606.3" r="1.15"/>
<circle cx="102.2" cy="609.3" r="1.15"/>
<circle cx="104.1" cy="610.3" r="1.15"/>
<circle cx="103.2" cy="612.5" r="1.15"/>
<circle cx="103.6" cy="613.9" r="1.15"/>
<circle cx="104.1" cy="614.8" r="1.15"/>
<circle cx="107.4" cy="612.6" r="1.15"/>
<circle cx="108.3" cy="614.1" r="1.15"/>
<circle cx="106.6" cy="617.2" r="1.15"/>
<circle cx="109.0" cy="616.3" r="1.15"/>
<circle cx="110.9" cy="617.0" r="1.15"/>
<circle cx="110.9" cy="617.4" r="1.15"/>
<circle cx="110.6" cy="620.3" r="1.15"/>
<circle cx="111.0" cy="621.1" r="1.15"/>
<circle cx="111.2" cy="621.3" r="1.15"/>
<circle cx="112.7" cy="621.6" r="1.15"/>
<circle cx="113.4" cy="623.5" r="1.15"/>
<circle cx="113.8" cy="624.9" r="1.15"/>
<circle cx="113.6" cy="625.4" r="1.15"/>
<circle cx="113.9" cy="627.0" r="1.15"/>
<circle cx="117.2" cy="626.5" r="1.15"/>
<circle cx="117.6" cy="626.8" r="1.15"/>
<circle cx="118.5" cy="628.6" r="1.15"/>
<circle cx="118.4" cy="629.6" r="1.15"/>
<circle cx="120.3" cy="629.0" r="1.15"/>
<circle cx="117.8" cy="632.8" r="1.15"/>
<circle cx="122.8" cy="630.7" r="1.15"/>
<circle cx="121.5" cy="633.0" r="1.15"/>
<circle cx="123.6" cy="633.2" r="1.15"/>
<circle cx="124.0" cy="633.6" r="1.15"/>
<circle cx="124.2" cy="635.8" r="1.15"/>
<circle cx="121.9" cy="638.2" r="1.15"/>
<circle cx="127.0" cy="636.5" r="1.15"/>
<circle cx="127.5" cy="637.6" r="1.15"/>
<circle cx="128.1" cy="638.3" r="1.15"/>
<circle cx="129.0" cy="639.1" r="1.15"/>
<circle cx="125.4" cy="643.1" r="1.15"/>
<circle cx="131.2" cy="641.3" r="1.15"/>
<circle cx="129.0" cy="643.7" r="1.15"/>
<circle cx="129.0" cy="644.7" r="1.15"/>
<circle cx="129.2" cy="645.6" r="1.15"/>
<circle cx="128.0" cy="647.3" r="1.15"/>
<circle cx="130.8" cy="648.3" r="1.15"/>
<circle cx="133.1" cy="648.0" r="1.15"/>
<circle cx="133.1" cy="649.4" r="1.15"/>
<circle cx="132.1" cy="650.7" r="1.15"/>
<circle cx="134.8" cy="650.8" r="1.15"/>
<circle cx="135.5" cy="652.3" r="1.15"/>
<circle cx="134.6" cy="653.9" r="1.15"/>
<circle cx="136.0" cy="654.1" r="1.15"/>
<circle cx="132.7" cy="657.0" r="1.15"/>
<circle cx="137.2" cy="655.9" r="1.15"/>
<circle cx="136.6" cy="658.2" r="1.15"/>
<circle cx="139.3" cy="657.3" r="1.15"/>
<circle cx="138.4" cy="659.5" r="1.15"/>
<circle cx="138.4" cy="660.8" r="1.15"/>
<circle cx="140.3" cy="661.4" r="1.15"/>
<circle cx="139.8" cy="663.0" r="1.15"/>
<circle cx="140.7" cy="663.0" r="1.15"/>
<circle cx="139.1" cy="665.0" r="1.15"/>
<circle cx="143.4" cy="664.1" r="1.15"/>
<circle cx="142.1" cy="666.5" r="1.15"/>
<circle cx="141.4" cy="668.5" r="1.15"/>
<circle cx="144.3" cy="668.4" r="1.15"/>
<circle cx="143.4" cy="670.4" r="1.15"/>
<circle cx="144.3" cy="670.0" r="1.15"/>
<circle cx="144.2" cy="672.4" r="1.15"/>
<circle cx="140.2" cy="676.0" r="1.15"/>
<circle cx="147.3" cy="673.4" r="1.15"/>
<circle cx="146.6" cy="674.7" r="1.15"/>
<circle cx="148.1" cy="674.9" r="1.15"/>
<circle cx="149.4" cy="676.3" r="1.15"/>
<circle cx="145.2" cy="679.4" r="1.15"/>
<circle cx="146.6" cy="679.9" r="1.15"/>
<circle cx="148.9" cy="680.4" r="1.15"/>
<circle cx="151.5" cy="679.8" r="1.15"/>
<circle cx="145.5" cy="683.3" r="1.15"/>
<circle cx="147.8" cy="684.1" r="1.15"/>
<circle cx="151.3" cy="684.3" r="1.15"/>
<circle cx="152.4" cy="684.3" r="1.15"/>
<circle cx="151.6" cy="686.6" r="1.15"/>
<circle cx="149.4" cy="688.8" r="1.15"/>
<circle cx="153.0" cy="687.9" r="1.15"/>
<circle cx="154.7" cy="689.0" r="1.15"/>
<circle cx="154.1" cy="690.5" r="1.15"/>
<circle cx="158.0" cy="690.2" r="1.15"/>
<circle cx="152.8" cy="692.8" r="1.15"/>
<circle cx="154.3" cy="693.6" r="1.15"/>
<circle cx="153.0" cy="695.9" r="1.15"/>
<circle cx="155.0" cy="696.5" r="1.15"/>
<circle cx="155.2" cy="697.3" r="1.15"/>
<circle cx="156.0" cy="697.7" r="1.15"/>
<circle cx="160.0" cy="698.2" r="1.15"/>
<circle cx="157.4" cy="700.5" r="1.15"/>
<circle cx="157.1" cy="701.2" r="1.15"/>
<circle cx="156.4" cy="703.3" r="1.15"/>
<circle cx="157.8" cy="704.3" r="1.15"/>
<circle cx="161.0" cy="704.1" r="1.15"/>
<circle cx="159.9" cy="705.5" r="1.15"/>
<circle cx="159.6" cy="706.8" r="1.15"/>
<circle cx="158.4" cy="708.7" r="1.15"/>
<circle cx="162.0" cy="707.9" r="1.15"/>
<circle cx="164.8" cy="708.0" r="1.15"/>
<circle cx="163.1" cy="710.0" r="1.15"/>
<circle cx="163.3" cy="711.8" r="1.15"/>
<circle cx="160.2" cy="713.9" r="1.15"/>
<circle cx="162.3" cy="714.5" r="1.15"/>
<circle cx="166.4" cy="714.0" r="1.15"/>
<circle cx="162.7" cy="716.8" r="1.15"/>
<circle cx="161.3" cy="718.1" r="1.15"/>
<circle cx="163.7" cy="718.2" r="1.15"/>
<circle cx="167.4" cy="719.6" r="1.15"/>
<circle cx="162.3" cy="721.1" r="1.15"/>
<circle cx="164.2" cy="721.6" r="1.15"/>
<circle cx="167.8" cy="722.7" r="1.15"/>
<circle cx="161.9" cy="724.9" r="1.15"/>
<circle cx="165.9" cy="724.8" r="1.15"/>
<circle cx="170.5" cy="726.1" r="1.15"/>
<circle cx="166.0" cy="727.3" r="1.15"/>
<circle cx="166.8" cy="728.6" r="1.15"/>
<circle cx="165.5" cy="729.3" r="1.15"/>
<circle cx="165.9" cy="730.5" r="1.15"/>
<circle cx="168.7" cy="732.5" r="1.15"/>
<circle cx="166.2" cy="733.8" r="1.15"/>
<circle cx="165.6" cy="734.5" r="1.15"/>
<circle cx="167.5" cy="735.6" r="1.15"/>
<circle cx="167.5" cy="736.4" r="1.15"/>
<circle cx="169.7" cy="738.1" r="1.15"/>
<circle cx="167.8" cy="738.9" r="1.15"/>
<circle cx="168.7" cy="740.7" r="1.15"/>
<circle cx="167.8" cy="741.7" r="1.15"/>
<circle cx="168.6" cy="742.8" r="1.15"/>
<circle cx="171.4" cy="744.1" r="1.15"/>
<circle cx="166.7" cy="744.6" r="1.15"/>
<circle cx="169.2" cy="745.4" r="1.15"/>
<circle cx="168.4" cy="746.8" r="1.15"/>
<circle cx="169.8" cy="747.9" r="1.15"/>
<circle cx="167.9" cy="749.0" r="1.15"/>
<circle cx="168.7" cy="750.1" r="1.15"/>
<circle cx="164.5" cy="751.9" r="1.15"/>
<circle cx="171.5" cy="753.3" r="1.15"/>
<circle cx="170.4" cy="754.0" r="1.15"/>
<circle cx="167.9" cy="755.8" r="1.15"/>
<circle cx="170.4" cy="756.9" r="1.15"/>
<circle cx="76.8" cy="588.2" r="1.15"/>
<circle cx="101.3" cy="592.8" r="1.15"/>
<circle cx="80.3" cy="596.3" r="1.15"/>
<circle cx="93.2" cy="606.8" r="1.15"/>
<circle cx="113.0" cy="645.3" r="1.15"/>
<circle cx="122.3" cy="652.3" r="1.15"/>
<circle cx="131.7" cy="671.0" r="1.15"/>
<circle cx="155.0" cy="669.8" r="1.15"/>
<circle cx="162.0" cy="668.7" r="1.15"/>
<circle cx="131.7" cy="670.8" r="1.15"/>
<circle cx="143.3" cy="686.0" r="1.15"/>
<circle cx="174.8" cy="712.8" r="1.15"/>
<circle cx="158.5" cy="739.7" r="1.15"/>
<circle cx="174.8" cy="747.8" r="1.15"/>
<text x="83.8" y="731.8" class="lbl" textLength="11.2" lengthAdjust="spacingAndGlyphs">G6</text>
<polyline points="269.16,583.80 271.10,586.04 273.02,588.29 274.93,590.53 276.81,592.77 278.68,595.02 280.53,597.26 282.36,599.51 284.18,601.75 285.97,603.99 287.75,606.24 289.51,608.48 291.25,610.72 292.97,612.97 294.68,615.21 296.37,617.45 298.04,619.70 299.69,621.94 301.32,624.18 302.94,626.43 304.54,628.67 306.12,630.92 307.68,633.16 309.23,635.40 310.75,637.65 312.26,639.89 313.75,642.13 315.22,644.38 316.68,646.62 318.12,648.86 319.53,651.11 320.94,653.35 322.32,655.59 323.68,657.84 325.03,660.08 326.36,662.33 327.67,664.57 328.96,666.81 330.24,669.06 331.50,671.30" stroke="#111" stroke-width="1.35" fill="none" stroke-linejoin="round"/>
<circle cx="243.1" cy="584.9" r="1.15"/>
<circle cx="247.2" cy="586.5" r="1.15"/>
<circle cx="247.8" cy="586.7" r="1.15"/>
<circle cx="249.9" cy="587.1" r="1.15"/>
<circle cx="251.5" cy="588.6" r="1.15"/>
<circle cx="254.2" cy="589.2" r="1.15"/>
<circle cx="257.1" cy="591.3" r="1.15"/>
<circle cx="257.4" cy="591.7" r="1.15"/>
<circle cx="259.6" cy="592.6" r="1.15"/>
<circle cx="262.7" cy="594.6" r="1.15"/>
<circle cx="264.2" cy="594.2" r="1.15"/>
<circle cx="265.9" cy="595.0" r="1.15"/>
<circle cx="268.9" cy="596.8" r="1.15"/>
<circle cx="270.7" cy="598.2" r="1.15"/>
<circle cx="272.5" cy="599.6" r="1.15"/>
<circle cx="275.6" cy="599.3" r="1.15"/>
<circle cx="275.9" cy="600.6" r="1.15"/>
<circle cx="279.7" cy="602.2" r="1.15"/>
<circle cx="281.1" cy="603.5" r="1.15"/>
<circle cx="281.5" cy="604.2" r="1.15"/>
<circle cx="283.0" cy="606.2" r="1.15"/>
<circle cx="285.5" cy="608.1" r="1.15"/>
<circle cx="286.8" cy="610.0" r="1.15"/>
<circle cx="289.0" cy="610.3" r="1.15"/>
<circle cx="289.6" cy="612.4" r="1.15"/>
<circle cx="291.6" cy="614.5" r="1.15"/>
<circle cx="293.1" cy="615.3" r="1.15"/>
<circle cx="295.2" cy="617.9" r="1.15"/>
<circle cx="297.6" cy="619.6" r="1.15"/>
<circle cx="298.3" cy="619.9" r="1.15"/>
<circle cx="300.1" cy="622.7" r="1.15"/>
<circle cx="301.8" cy="624.8" r="1.15"/>
<circle cx="300.5" cy="626.7" r="1.15"/>
<circle cx="304.2" cy="628.8" r="1.15"/>
<circle cx="304.4" cy="631.7" r="1.15"/>
<circle cx="305.6" cy="632.1" r="1.15"/>
<circle cx="306.8" cy="634.2" r="1.15"/>
<circle cx="308.3" cy="637.0" r="1.15"/>
<circle cx="309.9" cy="637.8" r="1.15"/>
<circle cx="310.3" cy="640.0" r="1.15"/>
<circle cx="312.6" cy="642.6" r="1.15"/>
<circle cx="314.7" cy="643.4" r="1.15"/>
<circle cx="314.5" cy="645.2" r="1.15"/>
<circle cx="315.7" cy="646.8" r="1.15"/>
<circle cx="317.2" cy="648.8" r="1.15"/>
<circle cx="318.1" cy="651.2" r="1.15"/>
<circle cx="321.2" cy="653.3" r="1.15"/>
<circle cx="322.0" cy="655.1" r="1.15"/>
<circle cx="323.5" cy="657.1" r="1.15"/>
<circle cx="325.7" cy="657.9" r="1.15"/>
<circle cx="326.5" cy="660.4" r="1.15"/>
<circle cx="327.9" cy="659.6" r="1.15"/>
<circle cx="330.3" cy="661.7" r="1.15"/>
<circle cx="332.7" cy="664.0" r="1.15"/>
<circle cx="335.1" cy="664.3" r="1.15"/>
<circle cx="335.4" cy="665.1" r="1.15"/>
<circle cx="338.1" cy="666.0" r="1.15"/>
<circle cx="339.5" cy="668.6" r="1.15"/>
<circle cx="341.2" cy="669.3" r="1.15"/>
<circle cx="342.1" cy="672.0" r="1.15"/>
<circle cx="343.7" cy="672.5" r="1.15"/>
<circle cx="344.0" cy="675.8" r="1.15"/>
<circle cx="345.3" cy="677.9" r="1.15"/>
<circle cx="345.6" cy="679.0" r="1.15"/>
<circle cx="346.6" cy="681.4" r="1.15"/>
<circle cx="347.9" cy="685.3" r="1.15"/>
<circle cx="349.3" cy="686.8" r="1.15"/>
<circle cx="350.7" cy="689.2" r="1.15"/>
<circle cx="349.5" cy="691.1" r="1.15"/>
<circle cx="350.7" cy="693.6" r="1.15"/>
<circle cx="350.8" cy="696.1" r="1.15"/>
<circle cx="350.7" cy="698.4" r="1.15"/>
<circle cx="352.2" cy="698.5" r="1.15"/>
<circle cx="352.1" cy="702.2" r="1.15"/>
<circle cx="352.2" cy="703.7" r="1.15"/>
<circle cx="352.9" cy="706.8" r="1.15"/>
<circle cx="352.2" cy="708.3" r="1.15"/>
<circle cx="352.7" cy="711.1" r="1.15"/>
<circle cx="353.4" cy="714.2" r="1.15"/>
<circle cx="353.5" cy="715.8" r="1.15"/>
<circle cx="352.6" cy="717.3" r="1.15"/>
<circle cx="353.6" cy="720.1" r="1.15"/>
<circle cx="353.0" cy="722.2" r="1.15"/>
<circle cx="353.3" cy="725.6" r="1.15"/>
<circle cx="354.8" cy="726.3" r="1.15"/>
<circle cx="354.4" cy="728.7" r="1.15"/>
<circle cx="353.9" cy="731.7" r="1.15"/>
<circle cx="353.7" cy="732.8" r="1.15"/>
<circle cx="353.6" cy="736.2" r="1.15"/>
<circle cx="353.7" cy="739.3" r="1.15"/>
<circle cx="353.6" cy="740.5" r="1.15"/>
<circle cx="354.5" cy="742.2" r="1.15"/>
<circle cx="354.4" cy="744.9" r="1.15"/>
<circle cx="353.9" cy="747.4" r="1.15"/>
<circle cx="354.7" cy="748.8" r="1.15"/>
<circle cx="301.3" cy="631.7" r="1.15"/>
<text x="249.5" y="733.5999999999999" class="lbl" textLength="82.9" lengthAdjust="spacingAndGlyphs">LITTLE AMERICA V</text>
<polyline points="429.8,586.8 432.1,589.1 435.5,592.4 439.3,596.1 442.7,599.7 445.7,603.1 448.6,606.6 451.4,610.2 454.3,613.7 457.2,617.1 460.1,620.6 463.1,624.0 466.0,627.7 469.0,631.6 472.0,635.7 474.9,639.9 477.7,644.0 480.3,648.2 482.7,652.4 485.0,656.5 487.0,660.3 488.7,663.4 490.2,666.1 491.5,668.9 493.0,672.0 494.7,675.9 496.4,680.1 498.1,684.4 499.8,688.3 501.4,691.5 502.9,694.4 504.3,697.2 505.7,700.0 507.0,702.9 508.1,705.7 509.3,708.6 510.3,711.7 511.3,715.0 512.2,718.6 513.0,722.1 513.8,725.7 514.5,729.3 515.1,733.1 515.7,736.6 516.2,739.7 516.6,742.2 516.9,744.2 517.2,746.0 517.4,748.0 517.6,750.4 517.7,753.0 517.7,755.4 517.8,757.0" stroke="#111" stroke-width="1.4" fill="none" stroke-linejoin="round"/>
<circle cx="409.9" cy="587.3" r="1.15"/>
<circle cx="412.5" cy="587.8" r="1.15"/>
<circle cx="415.4" cy="588.7" r="1.15"/>
<circle cx="415.8" cy="589.6" r="1.15"/>
<circle cx="419.2" cy="589.7" r="1.15"/>
<circle cx="422.5" cy="592.2" r="1.15"/>
<circle cx="423.1" cy="591.4" r="1.15"/>
<circle cx="425.7" cy="592.1" r="1.15"/>
<circle cx="429.2" cy="594.4" r="1.15"/>
<circle cx="431.5" cy="595.3" r="1.15"/>
<circle cx="435.1" cy="596.4" r="1.15"/>
<circle cx="436.8" cy="598.2" r="1.15"/>
<circle cx="439.1" cy="598.3" r="1.15"/>
<circle cx="442.1" cy="600.8" r="1.15"/>
<circle cx="442.8" cy="602.3" r="1.15"/>
<circle cx="445.2" cy="603.5" r="1.15"/>
<circle cx="446.4" cy="605.5" r="1.15"/>
<circle cx="449.7" cy="605.2" r="1.15"/>
<circle cx="450.5" cy="608.6" r="1.15"/>
<circle cx="451.6" cy="608.4" r="1.15"/>
<circle cx="452.9" cy="610.5" r="1.15"/>
<circle cx="454.7" cy="612.3" r="1.15"/>
<circle cx="456.0" cy="612.0" r="1.15"/>
<circle cx="457.1" cy="614.1" r="1.15"/>
<circle cx="459.3" cy="616.7" r="1.15"/>
<circle cx="460.2" cy="618.1" r="1.15"/>
<circle cx="461.8" cy="618.5" r="1.15"/>
<circle cx="462.6" cy="619.4" r="1.15"/>
<circle cx="465.4" cy="621.8" r="1.15"/>
<circle cx="464.4" cy="624.7" r="1.15"/>
<text x="414.2" y="735.0999999999999" class="lbl" textLength="66.3" lengthAdjust="spacingAndGlyphs">Old Byrd Station</text>
<polyline points="90.18,759.20 92.68,761.69 95.15,764.18 97.58,766.67 99.97,769.16 102.32,771.65 104.64,774.14 106.93,776.63 109.17,779.12 111.38,781.61 113.56,784.10 115.70,786.59 117.80,789.08 119.87,791.57 121.90,794.06 123.89,796.55 125.85,799.04 127.77,801.53 129.66,804.02 131.51,806.51 133.32,808.99 135.10,811.48 136.84,813.97 138.54,816.46 140.21,818.95 141.85,821.44 143.44,823.93 145.00,826.42 146.53,828.91 148.02,831.40 149.47,833.89 150.88,836.38 152.26,838.87 153.61,841.36 154.92,843.85 156.19,846.34 157.42,848.83 158.62,851.32 159.79,853.81 160.91,856.30" stroke="#111" stroke-width="1.35" fill="none" stroke-linejoin="round"/>
<circle cx="106.1" cy="776.4" r="1.15"/>
<circle cx="107.9" cy="775.9" r="1.15"/>
<circle cx="108.4" cy="779.1" r="1.15"/>
<circle cx="111.1" cy="780.5" r="1.15"/>
<circle cx="112.0" cy="781.1" r="1.15"/>
<circle cx="113.8" cy="783.1" r="1.15"/>
<circle cx="112.5" cy="785.3" r="1.15"/>
<circle cx="115.4" cy="786.2" r="1.15"/>
<circle cx="117.7" cy="788.2" r="1.15"/>
<circle cx="119.5" cy="788.5" r="1.15"/>
<circle cx="119.6" cy="791.4" r="1.15"/>
<circle cx="122.0" cy="790.6" r="1.15"/>
<circle cx="123.4" cy="793.0" r="1.15"/>
<circle cx="123.5" cy="795.6" r="1.15"/>
<circle cx="124.4" cy="796.6" r="1.15"/>
<circle cx="127.1" cy="798.1" r="1.15"/>
<circle cx="127.4" cy="800.1" r="1.15"/>
<circle cx="129.8" cy="802.0" r="1.15"/>
<circle cx="131.2" cy="802.4" r="1.15"/>
<circle cx="130.6" cy="804.9" r="1.15"/>
<circle cx="132.1" cy="805.6" r="1.15"/>
<circle cx="132.8" cy="807.7" r="1.15"/>
<circle cx="134.8" cy="810.2" r="1.15"/>
<circle cx="136.4" cy="809.9" r="1.15"/>
<circle cx="136.8" cy="812.0" r="1.15"/>
<circle cx="138.8" cy="813.2" r="1.15"/>
<circle cx="139.6" cy="816.0" r="1.15"/>
<circle cx="140.9" cy="818.3" r="1.15"/>
<circle cx="141.7" cy="819.7" r="1.15"/>
<circle cx="142.1" cy="822.4" r="1.15"/>
<circle cx="144.4" cy="821.3" r="1.15"/>
<circle cx="144.4" cy="823.7" r="1.15"/>
<circle cx="146.7" cy="826.4" r="1.15"/>
<circle cx="147.4" cy="827.2" r="1.15"/>
<circle cx="150.3" cy="828.6" r="1.15"/>
<circle cx="150.1" cy="830.4" r="1.15"/>
<circle cx="151.4" cy="831.5" r="1.15"/>
<circle cx="153.1" cy="832.9" r="1.15"/>
<circle cx="154.2" cy="834.2" r="1.15"/>
<circle cx="157.6" cy="835.9" r="1.15"/>
<circle cx="158.0" cy="837.4" r="1.15"/>
<circle cx="158.7" cy="838.9" r="1.15"/>
<circle cx="160.8" cy="840.0" r="1.15"/>
<circle cx="161.5" cy="841.9" r="1.15"/>
<circle cx="162.0" cy="843.3" r="1.15"/>
<circle cx="163.8" cy="844.6" r="1.15"/>
<circle cx="166.3" cy="844.2" r="1.15"/>
<circle cx="168.3" cy="845.4" r="1.15"/>
<circle cx="169.6" cy="845.1" r="1.15"/>
<circle cx="165.9" cy="849.6" r="1.15"/>
<circle cx="169.3" cy="849.8" r="1.15"/>
<circle cx="170.6" cy="849.5" r="1.15"/>
<circle cx="168.3" cy="852.7" r="1.15"/>
<circle cx="172.4" cy="853.1" r="1.15"/>
<circle cx="172.0" cy="854.7" r="1.15"/>
<circle cx="172.2" cy="855.1" r="1.15"/>
<circle cx="167.1" cy="858.5" r="1.15"/>
<circle cx="168.2" cy="860.1" r="1.15"/>
<circle cx="172.8" cy="859.5" r="1.15"/>
<circle cx="177.2" cy="860.2" r="1.15"/>
<circle cx="172.4" cy="862.2" r="1.15"/>
<circle cx="173.7" cy="864.2" r="1.15"/>
<circle cx="173.2" cy="865.2" r="1.15"/>
<circle cx="172.9" cy="866.2" r="1.15"/>
<circle cx="175.7" cy="867.1" r="1.15"/>
<circle cx="172.7" cy="869.0" r="1.15"/>
<circle cx="173.4" cy="870.8" r="1.15"/>
<circle cx="175.3" cy="871.1" r="1.15"/>
<circle cx="177.4" cy="873.0" r="1.15"/>
<circle cx="177.7" cy="873.9" r="1.15"/>
<circle cx="174.6" cy="875.3" r="1.15"/>
<circle cx="179.7" cy="876.0" r="1.15"/>
<circle cx="177.2" cy="878.1" r="1.15"/>
<circle cx="178.9" cy="878.8" r="1.15"/>
<circle cx="180.9" cy="880.8" r="1.15"/>
<circle cx="175.4" cy="881.6" r="1.15"/>
<circle cx="177.3" cy="883.3" r="1.15"/>
<circle cx="177.2" cy="884.7" r="1.15"/>
<circle cx="175.0" cy="885.9" r="1.15"/>
<circle cx="181.7" cy="887.4" r="1.15"/>
<circle cx="177.8" cy="888.5" r="1.15"/>
<circle cx="177.0" cy="890.3" r="1.15"/>
<circle cx="175.6" cy="891.6" r="1.15"/>
<circle cx="181.0" cy="892.1" r="1.15"/>
<circle cx="176.2" cy="894.1" r="1.15"/>
<circle cx="177.7" cy="894.9" r="1.15"/>
<circle cx="174.8" cy="896.9" r="1.15"/>
<circle cx="175.8" cy="899.1" r="1.15"/>
<circle cx="177.5" cy="899.4" r="1.15"/>
<circle cx="173.5" cy="902.1" r="1.15"/>
<circle cx="179.6" cy="901.4" r="1.15"/>
<circle cx="181.1" cy="903.1" r="1.15"/>
<circle cx="181.1" cy="904.2" r="1.15"/>
<circle cx="183.1" cy="905.3" r="1.15"/>
<circle cx="180.8" cy="906.9" r="1.15"/>
<circle cx="186.1" cy="906.9" r="1.15"/>
<circle cx="181.5" cy="909.5" r="1.15"/>
<circle cx="180.4" cy="911.0" r="1.15"/>
<circle cx="179.1" cy="912.5" r="1.15"/>
<circle cx="183.2" cy="913.9" r="1.15"/>
<circle cx="178.5" cy="915.5" r="1.15"/>
<circle cx="184.4" cy="915.9" r="1.15"/>
<circle cx="183.4" cy="918.2" r="1.15"/>
<circle cx="188.4" cy="918.6" r="1.15"/>
<circle cx="185.5" cy="920.6" r="1.15"/>
<circle cx="185.7" cy="921.9" r="1.15"/>
<circle cx="179.5" cy="923.0" r="1.15"/>
<circle cx="182.3" cy="924.2" r="1.15"/>
<circle cx="186.9" cy="924.7" r="1.15"/>
<circle cx="182.7" cy="927.4" r="1.15"/>
<circle cx="87.3" cy="765.5" r="1.15"/>
<circle cx="88.5" cy="763.5" r="1.15"/>
<circle cx="93.2" cy="769.0" r="1.15"/>
<circle cx="105.5" cy="787.0" r="1.15"/>
<text x="76.1" y="907.3" class="lbl" textLength="80.8" lengthAdjust="spacingAndGlyphs">Byrd Surface Camp</text>
<polyline points="244.59,760.00 247.95,763.89 251.25,767.78 254.50,771.67 257.69,775.56 260.82,779.45 263.90,783.34 266.92,787.23 269.89,791.12 272.80,795.01 275.65,798.90 278.45,802.79 281.19,806.68 283.87,810.57 286.50,814.46 289.08,818.35 291.59,822.24 294.05,826.13 296.46,830.02 298.81,833.91 301.10,837.79 303.34,841.68 305.52,845.57 307.64,849.46 309.71,853.35 311.72,857.24 313.68,861.13 315.58,865.02 317.42,868.91 319.21,872.80 320.94,876.69 322.62,880.58 324.24,884.47 325.80,888.36 327.31,892.25 328.76,896.14 330.16,900.03 331.50,903.92 332.78,907.81 334.01,911.70" stroke="#111" stroke-width="1.35" fill="none" stroke-linejoin="round"/>
<circle cx="267.6" cy="784.5" r="1.15"/>
<circle cx="267.9" cy="785.0" r="1.15"/>
<circle cx="272.2" cy="786.8" r="1.15"/>
<circle cx="271.8" cy="788.9" r="1.15"/>
<circle cx="277.0" cy="790.2" r="1.15"/>
<circle cx="277.1" cy="793.5" r="1.15"/>
<circle cx="276.4" cy="794.9" r="1.15"/>
<circle cx="277.8" cy="798.6" r="1.15"/>
<circle cx="281.9" cy="799.8" r="1.15"/>
<circle cx="283.3" cy="801.0" r="1.15"/>
<circle cx="284.8" cy="803.2" r="1.15"/>
<circle cx="287.3" cy="803.6" r="1.15"/>
<circle cx="286.9" cy="806.7" r="1.15"/>
<circle cx="288.8" cy="809.7" r="1.15"/>
<circle cx="291.1" cy="811.7" r="1.15"/>
<circle cx="291.7" cy="813.9" r="1.15"/>
<circle cx="293.2" cy="816.5" r="1.15"/>
<circle cx="294.6" cy="818.2" r="1.15"/>
<circle cx="296.7" cy="822.0" r="1.15"/>
<circle cx="297.3" cy="824.7" r="1.15"/>
<circle cx="299.4" cy="825.3" r="1.15"/>
<circle cx="300.3" cy="828.0" r="1.15"/>
<circle cx="302.4" cy="830.8" r="1.15"/>
<circle cx="302.3" cy="833.6" r="1.15"/>
<circle cx="304.8" cy="837.0" r="1.15"/>
<circle cx="304.5" cy="838.3" r="1.15"/>
<circle cx="305.3" cy="840.8" r="1.15"/>
<circle cx="307.0" cy="844.8" r="1.15"/>
<circle cx="244.2" cy="762.3" r="1.15"/>
<text x="255.8" y="906.3" class="lbl" textLength="34.3" lengthAdjust="spacingAndGlyphs">Dome C</text>
<polyline points="199.6,511.4 199.9,511.5 200.4,511.5 201.0,511.6 201.5,511.7 202.0,511.8 202.6,511.9 203.1,512.0 203.5,512.1" stroke="#111" stroke-width="1.4" fill="none" stroke-linejoin="round"/>
<circle cx="598.2" cy="492.6" r="1.15"/>
<circle cx="598.8" cy="491.8" r="1.15"/>
</g>
<g fill="#111" font-family="'Liberation Sans', sans-serif">
<text x="56.0" y="63.0" text-anchor="end" class="t" textLength="5.2" lengthAdjust="spacingAndGlyphs">0</text>
<text x="55.9" y="98.0" text-anchor="end" class="t" textLength="10.4" lengthAdjust="spacingAndGlyphs">20</text>
<text x="55.8" y="133.0" text-anchor="end" class="t" textLength="10.4" lengthAdjust="spacingAndGlyphs">40</text>
<text x="55.8" y="168.0" text-anchor="end" class="t" textLength="10.4" lengthAdjust="spacingAndGlyphs">60</text>
<text x="55.7" y="203.0" text-anchor="end" class="t" textLength="10.4" lengthAdjust="spacingAndGlyphs">80</text>
<text x="55.6" y="238.4" text-anchor="end" class="t" textLength="5.2" lengthAdjust="spacingAndGlyphs">0</text>
<text x="55.6" y="273.4" text-anchor="end" class="t" textLength="10.4" lengthAdjust="spacingAndGlyphs">20</text>
<text x="55.5" y="308.4" text-anchor="end" class="t" textLength="10.4" lengthAdjust="spacingAndGlyphs">40</text>
<text x="55.5" y="343.4" text-anchor="end" class="t" textLength="10.4" lengthAdjust="spacingAndGlyphs">60</text>
<text x="55.4" y="378.4" text-anchor="end" class="t" textLength="10.4" lengthAdjust="spacingAndGlyphs">80</text>
<text x="55.4" y="412.3" text-anchor="end" class="t" textLength="5.2" lengthAdjust="spacingAndGlyphs">0</text>
<text x="55.2" y="447.3" text-anchor="end" class="t" textLength="10.4" lengthAdjust="spacingAndGlyphs">20</text>
<text x="54.9" y="482.3" text-anchor="end" class="t" textLength="10.4" lengthAdjust="spacingAndGlyphs">40</text>
<text x="54.7" y="517.3" text-anchor="end" class="t" textLength="10.4" lengthAdjust="spacingAndGlyphs">60</text>
<text x="54.4" y="552.3" text-anchor="end" class="t" textLength="10.4" lengthAdjust="spacingAndGlyphs">80</text>
<text x="54.2" y="587.4" text-anchor="end" class="t" textLength="5.2" lengthAdjust="spacingAndGlyphs">0</text>
<text x="54.2" y="622.4" text-anchor="end" class="t" textLength="10.4" lengthAdjust="spacingAndGlyphs">20</text>
<text x="54.3" y="657.4" text-anchor="end" class="t" textLength="10.4" lengthAdjust="spacingAndGlyphs">40</text>
<text x="54.3" y="692.4" text-anchor="end" class="t" textLength="10.4" lengthAdjust="spacingAndGlyphs">60</text>
<text x="54.4" y="727.4" text-anchor="end" class="t" textLength="10.4" lengthAdjust="spacingAndGlyphs">80</text>
<text x="54.4" y="763.0" text-anchor="end" class="t" textLength="5.2" lengthAdjust="spacingAndGlyphs">0</text>
<text x="54.4" y="798.0" text-anchor="end" class="t" textLength="10.4" lengthAdjust="spacingAndGlyphs">20</text>
<text x="54.4" y="833.0" text-anchor="end" class="t" textLength="10.4" lengthAdjust="spacingAndGlyphs">40</text>
<text x="54.4" y="868.0" text-anchor="end" class="t" textLength="10.4" lengthAdjust="spacingAndGlyphs">60</text>
<text x="54.4" y="903.0" text-anchor="end" class="t" textLength="10.4" lengthAdjust="spacingAndGlyphs">80</text>
<text x="54.4" y="937.5" text-anchor="end" class="t" textLength="15.6" lengthAdjust="spacingAndGlyphs">100</text>
<text x="82.2" y="53.5" text-anchor="middle" class="t" textLength="19.4" lengthAdjust="spacingAndGlyphs">0.40</text>
<text x="122.6" y="53.6" text-anchor="middle" class="t" textLength="19.4" lengthAdjust="spacingAndGlyphs">0.60</text>
<text x="163.0" y="53.8" text-anchor="middle" class="t" textLength="19.4" lengthAdjust="spacingAndGlyphs">0.80</text>
<text x="252.4" y="51.8" text-anchor="middle" class="t" textLength="19.4" lengthAdjust="spacingAndGlyphs">0.40</text>
<text x="292.5" y="51.9" text-anchor="middle" class="t" textLength="19.4" lengthAdjust="spacingAndGlyphs">0.60</text>
<text x="332.6" y="52.0" text-anchor="middle" class="t" textLength="19.4" lengthAdjust="spacingAndGlyphs">0.80</text>
<text x="534.7" y="66.0" class="t" textLength="5.2" lengthAdjust="spacingAndGlyphs">0</text>
<text x="534.6" y="100.9" class="t" textLength="10.4" lengthAdjust="spacingAndGlyphs">20</text>
<text x="534.4" y="135.7" class="t" textLength="10.4" lengthAdjust="spacingAndGlyphs">40</text>
<text x="534.3" y="170.6" class="t" textLength="10.4" lengthAdjust="spacingAndGlyphs">60</text>
<text x="534.1" y="205.4" class="t" textLength="10.4" lengthAdjust="spacingAndGlyphs">80</text>
<text x="534.0" y="240.3" class="t" textLength="5.2" lengthAdjust="spacingAndGlyphs">0</text>
<text x="533.9" y="275.1" class="t" textLength="10.4" lengthAdjust="spacingAndGlyphs">20</text>
<text x="533.8" y="309.9" class="t" textLength="10.4" lengthAdjust="spacingAndGlyphs">40</text>
<text x="533.8" y="344.6" class="t" textLength="10.4" lengthAdjust="spacingAndGlyphs">60</text>
<text x="533.7" y="379.4" class="t" textLength="10.4" lengthAdjust="spacingAndGlyphs">80</text>
<text x="533.6" y="414.2" class="t" textLength="5.2" lengthAdjust="spacingAndGlyphs">0</text>
<text x="533.4" y="449.2" class="t" textLength="10.4" lengthAdjust="spacingAndGlyphs">20</text>
<text x="533.1" y="484.3" class="t" textLength="10.4" lengthAdjust="spacingAndGlyphs">40</text>
<text x="532.9" y="519.3" class="t" textLength="10.4" lengthAdjust="spacingAndGlyphs">60</text>
<text x="532.6" y="554.4" class="t" textLength="10.4" lengthAdjust="spacingAndGlyphs">80</text>
<text x="532.4" y="589.4" class="t" textLength="5.2" lengthAdjust="spacingAndGlyphs">0</text>
<text x="532.2" y="624.1" class="t" textLength="10.4" lengthAdjust="spacingAndGlyphs">20</text>
<text x="532.0" y="658.8" class="t" textLength="10.4" lengthAdjust="spacingAndGlyphs">40</text>
<text x="531.7" y="693.4" class="t" textLength="10.4" lengthAdjust="spacingAndGlyphs">60</text>
<text x="531.5" y="728.1" class="t" textLength="10.4" lengthAdjust="spacingAndGlyphs">80</text>
<text x="531.8" y="763.6" class="t" textLength="15.8" lengthAdjust="spacingAndGlyphs">100</text>
<text x="421.4" y="56.8" text-anchor="middle" class="t" textLength="19.4" lengthAdjust="spacingAndGlyphs">0.40</text>
<text x="461.5" y="56.9" text-anchor="middle" class="t" textLength="19.4" lengthAdjust="spacingAndGlyphs">0.60</text>
<text x="501.6" y="57.0" text-anchor="middle" class="t" textLength="19.4" lengthAdjust="spacingAndGlyphs">0.80</text>
<g font-size="19.5" stroke="#111" stroke-width="0.3">
<text x="215.6" y="22.8" textLength="66.8" lengthAdjust="spacingAndGlyphs">Density</text>
<text x="290.8" y="22.8">(</text>
<text x="302.6" y="22.8" textLength="25.6" lengthAdjust="spacingAndGlyphs">Mg</text>
<text x="334" y="22.8" textLength="18.6" lengthAdjust="spacingAndGlyphs">m</text>
<text x="353.8" y="15.6" font-size="12" textLength="9.2" lengthAdjust="spacingAndGlyphs">−</text><text x="364" y="15.9" font-size="13" textLength="7.6" lengthAdjust="spacingAndGlyphs">3</text>
<text x="377.6" y="22.8">)</text>
<text transform="translate(21.1,492.2) rotate(-90)" text-anchor="middle" font-size="21" textLength="88" lengthAdjust="spacingAndGlyphs">Depth (m)</text>
<text transform="translate(577.2,502) rotate(-90)" text-anchor="middle" font-size="21" textLength="87" lengthAdjust="spacingAndGlyphs">Depth (m)</text>
</g>
</g>
</svg>
</body></html>
